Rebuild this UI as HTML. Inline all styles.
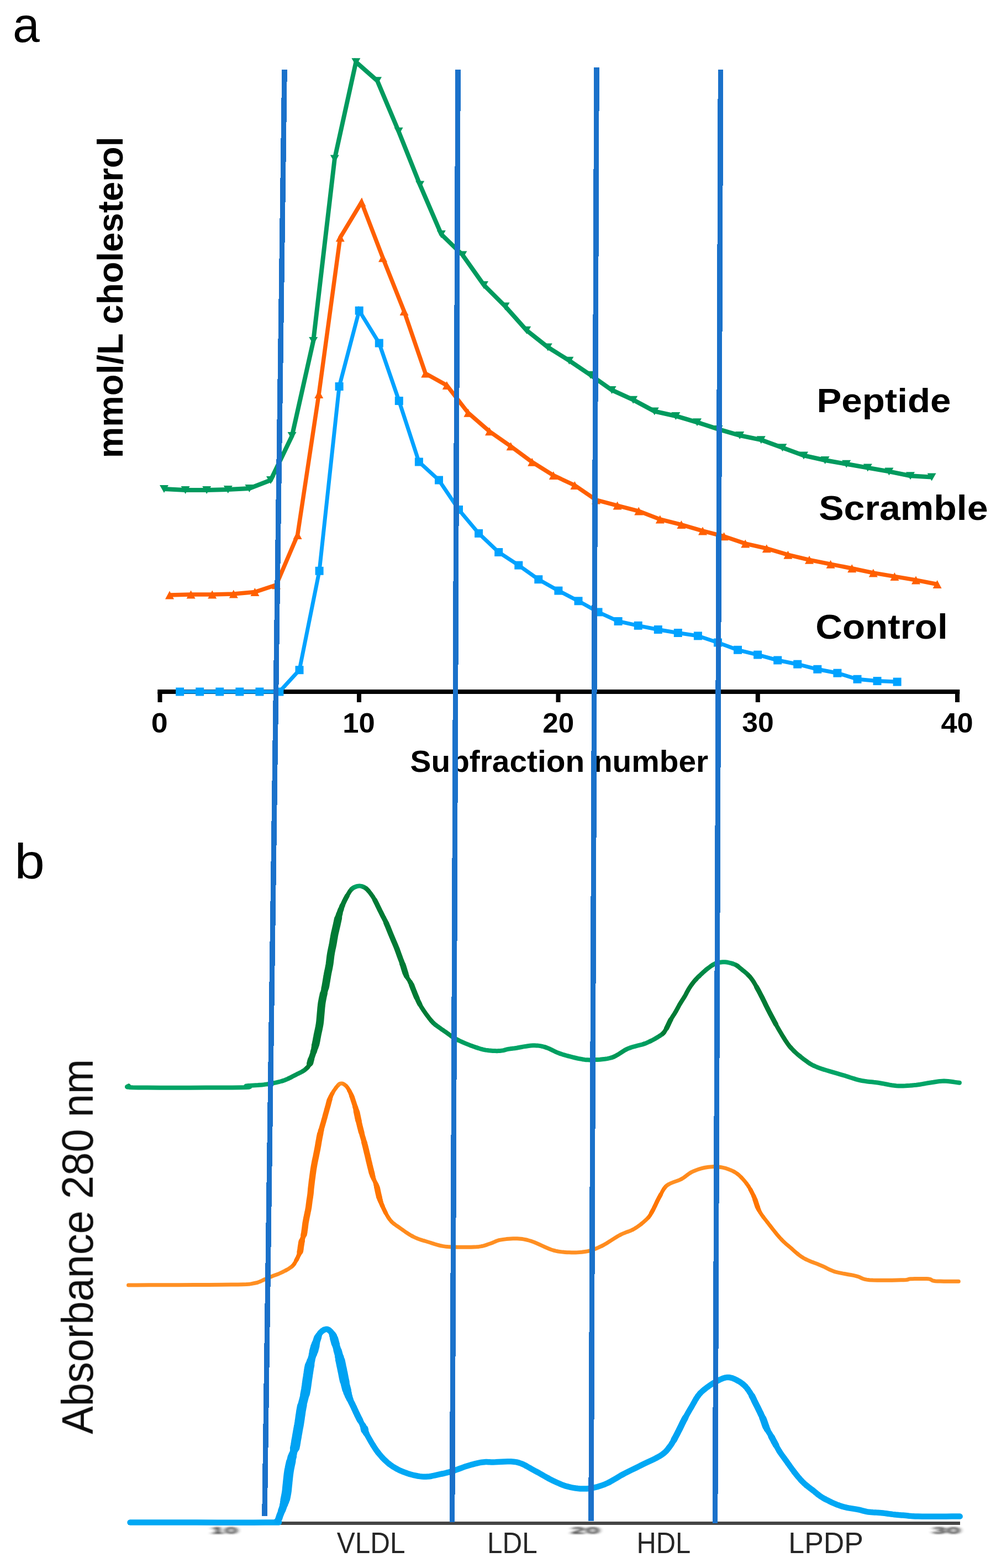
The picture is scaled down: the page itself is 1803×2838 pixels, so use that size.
<!DOCTYPE html><html><head><meta charset="utf-8"><title>Figure</title><style>html,body{margin:0;padding:0;background:#fff;}body{width:1803px;height:2838px;position:relative;overflow:hidden;}</style></head><body><svg width="1803" height="2838" viewBox="0 0 1803 2838" style="position:absolute;left:0;top:0" font-family="Liberation Sans, Arial, sans-serif">
<defs><filter id="blur1" x="-20%" y="-50%" width="140%" height="200%"><feGaussianBlur stdDeviation="1.5"/></filter><filter id="sb" x="-5%" y="-5%" width="110%" height="110%"><feGaussianBlur stdDeviation="0.6"/></filter><filter id="sbt" x="-20%" y="-30%" width="140%" height="160%"><feGaussianBlur stdDeviation="0.6"/></filter><filter id="sba" x="-2%" y="-150%" width="104%" height="400%"><feGaussianBlur stdDeviation="0.6"/></filter><filter id="blur2" x="-20%" y="-50%" width="140%" height="200%"><feGaussianBlur stdDeviation="1.6"/></filter></defs>
<rect width="1803" height="2838" fill="#fff"/>
<text transform="translate(23.07,76.02) scale(0.9797,1)" font-size="89.62" font-weight="normal" fill="#000" >a</text>
<text transform="translate(26.37,1589.92) scale(1.0936,1)" font-size="89.87" font-weight="normal" fill="#000" >b</text>
<g fill="#000">
<rect x="285.3" y="1248" width="1452" height="8"/>
<rect x="285.5" y="1252" width="8" height="19"/>
<rect x="646.0" y="1252" width="8" height="19"/>
<rect x="1006.5" y="1252" width="8" height="19"/>
<rect x="1367.8" y="1252" width="8" height="19"/>
<rect x="1729.0" y="1252" width="8" height="19"/>
</g>
<text transform="translate(273.87,1325.51) scale(1.0735,1)" font-size="50.14" font-weight="bold" fill="#000" >0</text>
<text transform="translate(620.19,1325.51) scale(1.0483,1)" font-size="50.14" font-weight="bold" fill="#000" >10</text>
<text transform="translate(982.23,1325.51) scale(1.0197,1)" font-size="50.14" font-weight="bold" fill="#000" >20</text>
<text transform="translate(1343.21,1325.44) scale(1.0332,1)" font-size="50.04" font-weight="bold" fill="#000" >30</text>
<text transform="translate(1703.51,1325.51) scale(1.0443,1)" font-size="50.14" font-weight="bold" fill="#000" >40</text>
<text transform="translate(742.56,1396.95) scale(1.0175,1)" font-size="55.83" font-weight="bold" fill="#000" >Subfraction number</text>
<text transform="translate(222.49,829.19) rotate(-90) scale(0.9699,1)" font-size="65.54" font-weight="bold" fill="#000" >mmol/L cholesterol</text>
<text transform="translate(1478.40,745.53) scale(1.0855,1)" font-size="62.01" font-weight="bold" fill="#000" >Peptide</text>
<text transform="translate(1482.24,940.68) scale(1.0720,1)" font-size="63.46" font-weight="bold" fill="#000" >Scramble</text>
<text transform="translate(1476.24,1156.38) scale(1.0619,1)" font-size="63.46" font-weight="bold" fill="#000" >Control</text>
<path d="M297.0,885.0 L335.6,887.0 L374.2,887.0 L412.8,886.0 L451.4,884.0 L490.0,869.0 L528.6,789.0 L567.2,617.0 L605.8,287.4 L644.4,112.2 L683.0,146.2 L721.6,237.7 L760.2,334.4 L798.8,424.0 L837.4,461.5 L876.0,516.0 L914.6,554.5 L953.2,597.8 L991.8,628.4 L1030.4,652.7 L1069.0,678.8 L1107.6,706.0 L1146.2,723.7 L1184.8,744.4 L1223.4,753.0 L1262.0,764.3 L1300.6,776.9 L1339.2,788.1 L1377.8,796.2 L1416.4,810.2 L1455.0,824.5 L1493.6,833.0 L1532.2,839.8 L1570.8,846.6 L1609.4,853.4 L1648.0,861.2 L1686.6,863.5" fill="none" stroke="#009a5e" stroke-width="8" stroke-linejoin="miter" stroke-miterlimit="3"/>
<path d="M289.0,878.0 L305.0,878.0 L297.0,892.0 Z M327.6,880.0 L343.6,880.0 L335.6,894.0 Z M366.2,880.0 L382.2,880.0 L374.2,894.0 Z M404.8,879.0 L420.8,879.0 L412.8,893.0 Z M443.4,877.0 L459.4,877.0 L451.4,891.0 Z M482.0,862.0 L498.0,862.0 L490.0,876.0 Z M520.6,782.0 L536.6,782.0 L528.6,796.0 Z M559.2,610.0 L575.2,610.0 L567.2,624.0 Z M597.8,280.4 L613.8,280.4 L605.8,294.4 Z M636.4,105.2 L652.4,105.2 L644.4,119.2 Z M675.0,139.2 L691.0,139.2 L683.0,153.2 Z M713.6,230.7 L729.6,230.7 L721.6,244.7 Z M752.2,327.4 L768.2,327.4 L760.2,341.4 Z M790.8,417.0 L806.8,417.0 L798.8,431.0 Z M829.4,454.5 L845.4,454.5 L837.4,468.5 Z M868.0,509.0 L884.0,509.0 L876.0,523.0 Z M906.6,547.5 L922.6,547.5 L914.6,561.5 Z M945.2,590.8 L961.2,590.8 L953.2,604.8 Z M983.8,621.4 L999.8,621.4 L991.8,635.4 Z M1022.4,645.7 L1038.4,645.7 L1030.4,659.7 Z M1061.0,671.8 L1077.0,671.8 L1069.0,685.8 Z M1099.6,699.0 L1115.6,699.0 L1107.6,713.0 Z M1138.2,716.7 L1154.2,716.7 L1146.2,730.7 Z M1176.8,737.4 L1192.8,737.4 L1184.8,751.4 Z M1215.4,746.0 L1231.4,746.0 L1223.4,760.0 Z M1254.0,757.3 L1270.0,757.3 L1262.0,771.3 Z M1292.6,769.9 L1308.6,769.9 L1300.6,783.9 Z M1331.2,781.1 L1347.2,781.1 L1339.2,795.1 Z M1369.8,789.2 L1385.8,789.2 L1377.8,803.2 Z M1408.4,803.2 L1424.4,803.2 L1416.4,817.2 Z M1447.0,817.5 L1463.0,817.5 L1455.0,831.5 Z M1485.6,826.0 L1501.6,826.0 L1493.6,840.0 Z M1524.2,832.8 L1540.2,832.8 L1532.2,846.8 Z M1562.8,839.6 L1578.8,839.6 L1570.8,853.6 Z M1601.4,846.4 L1617.4,846.4 L1609.4,860.4 Z M1640.0,854.2 L1656.0,854.2 L1648.0,868.2 Z M1678.6,856.5 L1694.6,856.5 L1686.6,870.5 Z" fill="#009a5e"/>
<path d="M307.0,1077.0 L345.6,1076.0 L384.2,1076.0 L422.8,1075.0 L461.4,1071.6 L500.0,1058.8 L538.6,968.5 L577.2,713.5 L615.8,430.0 L654.4,366.0 L693.0,466.7 L731.6,563.5 L770.2,676.0 L808.8,697.5 L847.4,747.2 L886.0,780.7 L924.6,807.7 L963.2,836.3 L1001.8,860.4 L1040.4,878.4 L1079.0,904.9 L1117.6,915.1 L1156.2,925.0 L1194.8,940.0 L1233.4,949.6 L1272.0,961.0 L1310.6,970.8 L1349.2,983.9 L1387.8,992.7 L1426.4,1004.2 L1465.0,1013.3 L1503.6,1021.2 L1542.2,1028.7 L1580.8,1036.9 L1619.4,1043.4 L1658.0,1049.9 L1696.6,1057.5" fill="none" stroke="#ff5f00" stroke-width="7.5" stroke-linejoin="miter" stroke-miterlimit="3"/>
<path d="M299.0,1084.5 L315.0,1084.5 L307.0,1069.5 Z M337.6,1083.5 L353.6,1083.5 L345.6,1068.5 Z M376.2,1083.5 L392.2,1083.5 L384.2,1068.5 Z M414.8,1082.5 L430.8,1082.5 L422.8,1067.5 Z M453.4,1079.1 L469.4,1079.1 L461.4,1064.1 Z M492.0,1066.3 L508.0,1066.3 L500.0,1051.3 Z M530.6,976.0 L546.6,976.0 L538.6,961.0 Z M569.2,721.0 L585.2,721.0 L577.2,706.0 Z M607.8,437.5 L623.8,437.5 L615.8,422.5 Z M646.4,373.5 L662.4,373.5 L654.4,358.5 Z M685.0,474.2 L701.0,474.2 L693.0,459.2 Z M723.6,571.0 L739.6,571.0 L731.6,556.0 Z M762.2,683.5 L778.2,683.5 L770.2,668.5 Z M800.8,705.0 L816.8,705.0 L808.8,690.0 Z M839.4,754.7 L855.4,754.7 L847.4,739.7 Z M878.0,788.2 L894.0,788.2 L886.0,773.2 Z M916.6,815.2 L932.6,815.2 L924.6,800.2 Z M955.2,843.8 L971.2,843.8 L963.2,828.8 Z M993.8,867.9 L1009.8,867.9 L1001.8,852.9 Z M1032.4,885.9 L1048.4,885.9 L1040.4,870.9 Z M1071.0,912.4 L1087.0,912.4 L1079.0,897.4 Z M1109.6,922.6 L1125.6,922.6 L1117.6,907.6 Z M1148.2,932.5 L1164.2,932.5 L1156.2,917.5 Z M1186.8,947.5 L1202.8,947.5 L1194.8,932.5 Z M1225.4,957.1 L1241.4,957.1 L1233.4,942.1 Z M1264.0,968.5 L1280.0,968.5 L1272.0,953.5 Z M1302.6,978.3 L1318.6,978.3 L1310.6,963.3 Z M1341.2,991.4 L1357.2,991.4 L1349.2,976.4 Z M1379.8,1000.2 L1395.8,1000.2 L1387.8,985.2 Z M1418.4,1011.7 L1434.4,1011.7 L1426.4,996.7 Z M1457.0,1020.8 L1473.0,1020.8 L1465.0,1005.8 Z M1495.6,1028.7 L1511.6,1028.7 L1503.6,1013.7 Z M1534.2,1036.2 L1550.2,1036.2 L1542.2,1021.2 Z M1572.8,1044.4 L1588.8,1044.4 L1580.8,1029.4 Z M1611.4,1050.9 L1627.4,1050.9 L1619.4,1035.9 Z M1650.0,1057.4 L1666.0,1057.4 L1658.0,1042.4 Z M1688.6,1065.0 L1704.6,1065.0 L1696.6,1050.0 Z" fill="#ff5f00"/>
<path d="M325.6,1252.0 L361.6,1252.0 L397.7,1252.0 L433.8,1252.0 L469.9,1252.0 L505.9,1252.0 L542.0,1212.7 L578.1,1033.3 L614.1,699.5 L650.2,562.2 L686.3,621.0 L722.3,725.5 L758.4,836.0 L794.5,869.0 L830.5,922.5 L866.6,965.4 L902.7,999.5 L938.8,1023.1 L974.8,1048.7 L1010.9,1069.1 L1047.0,1087.8 L1083.0,1107.9 L1119.1,1124.5 L1155.2,1132.3 L1191.2,1139.5 L1227.3,1145.5 L1263.4,1150.9 L1299.5,1163.0 L1335.5,1176.3 L1371.6,1185.1 L1407.7,1195.0 L1443.7,1202.2 L1479.8,1211.3 L1515.9,1218.2 L1552.0,1229.3 L1588.0,1232.6 L1624.1,1234.1" fill="none" stroke="#00a2ff" stroke-width="7" stroke-linejoin="miter" stroke-miterlimit="3"/>
<g fill="#00a2ff"><rect x="318.1" y="1244.5" width="15" height="15"/><rect x="354.1" y="1244.5" width="15" height="15"/><rect x="390.2" y="1244.5" width="15" height="15"/><rect x="426.3" y="1244.5" width="15" height="15"/><rect x="462.4" y="1244.5" width="15" height="15"/><rect x="498.4" y="1244.5" width="15" height="15"/><rect x="534.5" y="1205.2" width="15" height="15"/><rect x="570.6" y="1025.8" width="15" height="15"/><rect x="606.6" y="692.0" width="15" height="15"/><rect x="642.7" y="554.7" width="15" height="15"/><rect x="678.8" y="613.5" width="15" height="15"/><rect x="714.8" y="718.0" width="15" height="15"/><rect x="750.9" y="828.5" width="15" height="15"/><rect x="787.0" y="861.5" width="15" height="15"/><rect x="823.0" y="915.0" width="15" height="15"/><rect x="859.1" y="957.9" width="15" height="15"/><rect x="895.2" y="992.0" width="15" height="15"/><rect x="931.3" y="1015.6" width="15" height="15"/><rect x="967.3" y="1041.2" width="15" height="15"/><rect x="1003.4" y="1061.6" width="15" height="15"/><rect x="1039.5" y="1080.3" width="15" height="15"/><rect x="1075.5" y="1100.4" width="15" height="15"/><rect x="1111.6" y="1117.0" width="15" height="15"/><rect x="1147.7" y="1124.8" width="15" height="15"/><rect x="1183.8" y="1132.0" width="15" height="15"/><rect x="1219.8" y="1138.0" width="15" height="15"/><rect x="1255.9" y="1143.4" width="15" height="15"/><rect x="1292.0" y="1155.5" width="15" height="15"/><rect x="1328.0" y="1168.8" width="15" height="15"/><rect x="1364.1" y="1177.6" width="15" height="15"/><rect x="1400.2" y="1187.5" width="15" height="15"/><rect x="1436.2" y="1194.7" width="15" height="15"/><rect x="1472.3" y="1203.8" width="15" height="15"/><rect x="1508.4" y="1210.7" width="15" height="15"/><rect x="1544.5" y="1221.8" width="15" height="15"/><rect x="1580.5" y="1225.1" width="15" height="15"/><rect x="1616.6" y="1226.6" width="15" height="15"/></g>
<text transform="translate(167.82,2595.75) rotate(-90) scale(0.9505,1)" font-size="79.80" font-weight="normal" fill="#111" filter="url(#sbt)">Absorbance 280 nm</text>
<rect x="232" y="2754" width="1506" height="6" fill="#454545" filter="url(#sba)"/>
<g fill="none" stroke-width="8" stroke-linejoin="round" stroke-linecap="round" filter="url(#sb)"><path stroke="#009655" d="M233.0,1965.6 233.2,1965.8 232.2,1966.2 230.9,1966.6"/><path stroke="#009d5e" d="M230.9,1966.6 230.2,1967.1"/><path stroke="#00a466" d="M230.2,1967.1 230.9,1967.5 234.0,1967.9 240.2,1968.3 250.6,1968.5 267.0,1968.6 289.4,1968.7 315.7,1968.7 344.1,1968.7 372.3,1968.6 398.5,1968.5 420.6,1968.4 436.5,1968.2 446.0,1968.0 450.8,1967.7 452.1,1967.3 451.1,1966.9 448.8,1966.5 446.4,1966.1 445.0,1965.7 445.9,1965.4 448.5,1965.1 451.7,1964.9 455.2,1964.7 459.0,1964.5 462.9,1964.3 466.8,1964.1 470.6,1963.8 474.1,1963.5 477.5,1963.1 480.9,1962.6 484.3,1962.2 487.7,1961.6 490.9,1961.1 494.1,1960.5 497.1,1959.9 500.0,1959.3 502.7,1958.7 505.1,1958.1 507.4,1957.5 509.6,1956.9 511.8,1956.2"/><path stroke="#009d5e" d="M511.8,1956.2 513.9,1955.5 516.1,1954.7 518.3,1953.8 520.6,1952.8 523.0,1951.7"/><path stroke="#009655" d="M523.0,1951.7 525.4,1950.6 527.7,1949.4 530.1,1948.1 532.3,1946.9 534.5,1945.8 536.6,1944.7 538.6,1943.7 540.5,1942.8 542.3,1941.9 544.0,1941.1 545.7,1940.2 547.3,1939.3 548.8,1938.4"/><path stroke="#008f4d" d="M548.8,1938.4 550.3,1937.4 551.7,1936.4 553.0,1935.3"/><path stroke="#008845" d="M553.0,1935.3 554.3,1934.2 555.5,1933.0"/><path stroke="#00813c" d="M555.5,1933.0 556.7,1931.9"/><path stroke="#007a34" d="M556.7,1931.9 557.7,1930.7 558.6,1929.4 559.5,1928.2 560.2,1926.9"/><path stroke="#007a34" transform="translate(-0.5,0)" d="M560.2,1926.9 560.8,1925.6"/><path stroke="#007a34" transform="translate(-0.17,0)" d="M560.2,1926.9 560.8,1925.6"/><path stroke="#007a34" transform="translate(0.17,0)" d="M560.2,1926.9 560.8,1925.6"/><path stroke="#007a34" transform="translate(0.5,0)" d="M560.2,1926.9 560.8,1925.6"/><path stroke="#007a34" transform="translate(-1.5,0)" d="M560.8,1925.6 561.2,1924.3"/><path stroke="#007a34" transform="translate(-0.5,0)" d="M560.8,1925.6 561.2,1924.3"/><path stroke="#007a34" transform="translate(0.5,0)" d="M560.8,1925.6 561.2,1924.3"/><path stroke="#007a34" transform="translate(1.5,0)" d="M560.8,1925.6 561.2,1924.3"/><path stroke="#007a34" transform="translate(-2.0,0)" d="M561.2,1924.3 561.6,1923.0 561.9,1921.6 562.3,1920.2 562.6,1918.7 563.1,1917.2"/><path stroke="#007a34" transform="translate(-0.67,0)" d="M561.2,1924.3 561.6,1923.0 561.9,1921.6 562.3,1920.2 562.6,1918.7 563.1,1917.2"/><path stroke="#007a34" transform="translate(0.67,0)" d="M561.2,1924.3 561.6,1923.0 561.9,1921.6 562.3,1920.2 562.6,1918.7 563.1,1917.2"/><path stroke="#007a34" transform="translate(2.0,0)" d="M561.2,1924.3 561.6,1923.0 561.9,1921.6 562.3,1920.2 562.6,1918.7 563.1,1917.2"/><path stroke="#007a34" transform="translate(-1.5,0)" d="M563.1,1917.2 563.6,1915.6 564.2,1914.0 564.8,1912.3 565.4,1910.5 566.0,1908.8 566.6,1907.0 567.2,1905.2 567.7,1903.5"/><path stroke="#007a34" transform="translate(-0.5,0)" d="M563.1,1917.2 563.6,1915.6 564.2,1914.0 564.8,1912.3 565.4,1910.5 566.0,1908.8 566.6,1907.0 567.2,1905.2 567.7,1903.5"/><path stroke="#007a34" transform="translate(0.5,0)" d="M563.1,1917.2 563.6,1915.6 564.2,1914.0 564.8,1912.3 565.4,1910.5 566.0,1908.8 566.6,1907.0 567.2,1905.2 567.7,1903.5"/><path stroke="#007a34" transform="translate(1.5,0)" d="M563.1,1917.2 563.6,1915.6 564.2,1914.0 564.8,1912.3 565.4,1910.5 566.0,1908.8 566.6,1907.0 567.2,1905.2 567.7,1903.5"/><path stroke="#007a34" transform="translate(-2.0,0)" d="M567.7,1903.5 568.2,1901.8 568.7,1900.2 569.2,1898.6 569.6,1896.9 570.1,1895.3"/><path stroke="#007a34" transform="translate(-0.67,0)" d="M567.7,1903.5 568.2,1901.8 568.7,1900.2 569.2,1898.6 569.6,1896.9 570.1,1895.3"/><path stroke="#007a34" transform="translate(0.67,0)" d="M567.7,1903.5 568.2,1901.8 568.7,1900.2 569.2,1898.6 569.6,1896.9 570.1,1895.3"/><path stroke="#007a34" transform="translate(2.0,0)" d="M567.7,1903.5 568.2,1901.8 568.7,1900.2 569.2,1898.6 569.6,1896.9 570.1,1895.3"/><path stroke="#007a34" transform="translate(-2.5,0)" d="M570.1,1895.3 570.5,1893.5 570.9,1891.7"/><path stroke="#007a34" transform="translate(-0.83,0)" d="M570.1,1895.3 570.5,1893.5 570.9,1891.7"/><path stroke="#007a34" transform="translate(0.83,0)" d="M570.1,1895.3 570.5,1893.5 570.9,1891.7"/><path stroke="#007a34" transform="translate(2.5,0)" d="M570.1,1895.3 570.5,1893.5 570.9,1891.7"/><path stroke="#007a34" transform="translate(-3.0,0)" d="M570.9,1891.7 571.4,1889.8 571.9,1887.7 572.3,1885.5 572.8,1883.3 573.2,1880.9 573.6,1878.6 574.1,1876.2 574.5,1873.8 575.0,1871.5 575.5,1869.2 576.0,1866.9 576.5,1864.6 577.0,1862.4 577.4,1860.1 577.9,1857.8 578.3,1855.5 578.7,1853.2 579.0,1850.9 579.3,1848.6 579.5,1846.3 579.7,1844.0 579.9,1841.8 580.1,1839.5 580.3,1837.2 580.5,1834.9 580.7,1832.6 580.9,1830.3 581.1,1828.0 581.3,1825.6 581.5,1823.3 581.8,1821.1 582.0,1818.8 582.3,1816.6 582.6,1814.4 583.0,1812.3 583.4,1810.1 583.8,1808.0 584.2,1806.0 584.6,1803.9 585.1,1801.9 585.5,1800.0 585.9,1798.2"/><path stroke="#007a34" transform="translate(-1.0,0)" d="M570.9,1891.7 571.4,1889.8 571.9,1887.7 572.3,1885.5 572.8,1883.3 573.2,1880.9 573.6,1878.6 574.1,1876.2 574.5,1873.8 575.0,1871.5 575.5,1869.2 576.0,1866.9 576.5,1864.6 577.0,1862.4 577.4,1860.1 577.9,1857.8 578.3,1855.5 578.7,1853.2 579.0,1850.9 579.3,1848.6 579.5,1846.3 579.7,1844.0 579.9,1841.8 580.1,1839.5 580.3,1837.2 580.5,1834.9 580.7,1832.6 580.9,1830.3 581.1,1828.0 581.3,1825.6 581.5,1823.3 581.8,1821.1 582.0,1818.8 582.3,1816.6 582.6,1814.4 583.0,1812.3 583.4,1810.1 583.8,1808.0 584.2,1806.0 584.6,1803.9 585.1,1801.9 585.5,1800.0 585.9,1798.2"/><path stroke="#007a34" transform="translate(1.0,0)" d="M570.9,1891.7 571.4,1889.8 571.9,1887.7 572.3,1885.5 572.8,1883.3 573.2,1880.9 573.6,1878.6 574.1,1876.2 574.5,1873.8 575.0,1871.5 575.5,1869.2 576.0,1866.9 576.5,1864.6 577.0,1862.4 577.4,1860.1 577.9,1857.8 578.3,1855.5 578.7,1853.2 579.0,1850.9 579.3,1848.6 579.5,1846.3 579.7,1844.0 579.9,1841.8 580.1,1839.5 580.3,1837.2 580.5,1834.9 580.7,1832.6 580.9,1830.3 581.1,1828.0 581.3,1825.6 581.5,1823.3 581.8,1821.1 582.0,1818.8 582.3,1816.6 582.6,1814.4 583.0,1812.3 583.4,1810.1 583.8,1808.0 584.2,1806.0 584.6,1803.9 585.1,1801.9 585.5,1800.0 585.9,1798.2"/><path stroke="#007a34" transform="translate(3.0,0)" d="M570.9,1891.7 571.4,1889.8 571.9,1887.7 572.3,1885.5 572.8,1883.3 573.2,1880.9 573.6,1878.6 574.1,1876.2 574.5,1873.8 575.0,1871.5 575.5,1869.2 576.0,1866.9 576.5,1864.6 577.0,1862.4 577.4,1860.1 577.9,1857.8 578.3,1855.5 578.7,1853.2 579.0,1850.9 579.3,1848.6 579.5,1846.3 579.7,1844.0 579.9,1841.8 580.1,1839.5 580.3,1837.2 580.5,1834.9 580.7,1832.6 580.9,1830.3 581.1,1828.0 581.3,1825.6 581.5,1823.3 581.8,1821.1 582.0,1818.8 582.3,1816.6 582.6,1814.4 583.0,1812.3 583.4,1810.1 583.8,1808.0 584.2,1806.0 584.6,1803.9 585.1,1801.9 585.5,1800.0 585.9,1798.2"/><path stroke="#007a34" transform="translate(-2.5,0)" d="M585.9,1798.2 586.3,1796.5 586.8,1794.9 587.2,1793.3 587.7,1791.7 588.1,1790.0 588.5,1788.1"/><path stroke="#007a34" transform="translate(-0.83,0)" d="M585.9,1798.2 586.3,1796.5 586.8,1794.9 587.2,1793.3 587.7,1791.7 588.1,1790.0 588.5,1788.1"/><path stroke="#007a34" transform="translate(0.83,0)" d="M585.9,1798.2 586.3,1796.5 586.8,1794.9 587.2,1793.3 587.7,1791.7 588.1,1790.0 588.5,1788.1"/><path stroke="#007a34" transform="translate(2.5,0)" d="M585.9,1798.2 586.3,1796.5 586.8,1794.9 587.2,1793.3 587.7,1791.7 588.1,1790.0 588.5,1788.1"/><path stroke="#007a34" transform="translate(-3.0,0)" d="M588.5,1788.1 589.0,1786.0 589.5,1783.6 589.9,1780.9 590.4,1778.1 590.9,1775.2 591.4,1772.2 591.9,1769.3 592.3,1766.6 592.8,1764.0 593.2,1761.6 593.7,1759.4 594.1,1757.3 594.6,1755.3 595.0,1753.3 595.4,1751.2 595.8,1749.1 596.2,1746.9 596.6,1744.6 596.9,1742.2 597.2,1739.7 597.5,1737.3 597.8,1734.8 598.1,1732.3 598.4,1729.8 598.8,1727.3 599.2,1724.8 599.7,1722.3 600.2,1719.7 600.7,1717.2 601.3,1714.7 601.8,1712.2 602.3,1709.9 602.7,1707.6 603.1,1705.5 603.4,1703.4 603.7,1701.5 604.0,1699.6 604.4,1697.8 604.7,1695.9 605.0,1694.0 605.4,1692.0 605.8,1689.9 606.3,1687.8 606.8,1685.7 607.3,1683.6 607.8,1681.4 608.3,1679.3 608.8,1677.1 609.3,1675.0 609.8,1672.9 610.2,1670.7 610.7,1668.6 611.2,1666.4 611.6,1664.3 612.1,1662.2"/><path stroke="#007a34" transform="translate(-1.0,0)" d="M588.5,1788.1 589.0,1786.0 589.5,1783.6 589.9,1780.9 590.4,1778.1 590.9,1775.2 591.4,1772.2 591.9,1769.3 592.3,1766.6 592.8,1764.0 593.2,1761.6 593.7,1759.4 594.1,1757.3 594.6,1755.3 595.0,1753.3 595.4,1751.2 595.8,1749.1 596.2,1746.9 596.6,1744.6 596.9,1742.2 597.2,1739.7 597.5,1737.3 597.8,1734.8 598.1,1732.3 598.4,1729.8 598.8,1727.3 599.2,1724.8 599.7,1722.3 600.2,1719.7 600.7,1717.2 601.3,1714.7 601.8,1712.2 602.3,1709.9 602.7,1707.6 603.1,1705.5 603.4,1703.4 603.7,1701.5 604.0,1699.6 604.4,1697.8 604.7,1695.9 605.0,1694.0 605.4,1692.0 605.8,1689.9 606.3,1687.8 606.8,1685.7 607.3,1683.6 607.8,1681.4 608.3,1679.3 608.8,1677.1 609.3,1675.0 609.8,1672.9 610.2,1670.7 610.7,1668.6 611.2,1666.4 611.6,1664.3 612.1,1662.2"/><path stroke="#007a34" transform="translate(1.0,0)" d="M588.5,1788.1 589.0,1786.0 589.5,1783.6 589.9,1780.9 590.4,1778.1 590.9,1775.2 591.4,1772.2 591.9,1769.3 592.3,1766.6 592.8,1764.0 593.2,1761.6 593.7,1759.4 594.1,1757.3 594.6,1755.3 595.0,1753.3 595.4,1751.2 595.8,1749.1 596.2,1746.9 596.6,1744.6 596.9,1742.2 597.2,1739.7 597.5,1737.3 597.8,1734.8 598.1,1732.3 598.4,1729.8 598.8,1727.3 599.2,1724.8 599.7,1722.3 600.2,1719.7 600.7,1717.2 601.3,1714.7 601.8,1712.2 602.3,1709.9 602.7,1707.6 603.1,1705.5 603.4,1703.4 603.7,1701.5 604.0,1699.6 604.4,1697.8 604.7,1695.9 605.0,1694.0 605.4,1692.0 605.8,1689.9 606.3,1687.8 606.8,1685.7 607.3,1683.6 607.8,1681.4 608.3,1679.3 608.8,1677.1 609.3,1675.0 609.8,1672.9 610.2,1670.7 610.7,1668.6 611.2,1666.4 611.6,1664.3 612.1,1662.2"/><path stroke="#007a34" transform="translate(3.0,0)" d="M588.5,1788.1 589.0,1786.0 589.5,1783.6 589.9,1780.9 590.4,1778.1 590.9,1775.2 591.4,1772.2 591.9,1769.3 592.3,1766.6 592.8,1764.0 593.2,1761.6 593.7,1759.4 594.1,1757.3 594.6,1755.3 595.0,1753.3 595.4,1751.2 595.8,1749.1 596.2,1746.9 596.6,1744.6 596.9,1742.2 597.2,1739.7 597.5,1737.3 597.8,1734.8 598.1,1732.3 598.4,1729.8 598.8,1727.3 599.2,1724.8 599.7,1722.3 600.2,1719.7 600.7,1717.2 601.3,1714.7 601.8,1712.2 602.3,1709.9 602.7,1707.6 603.1,1705.5 603.4,1703.4 603.7,1701.5 604.0,1699.6 604.4,1697.8 604.7,1695.9 605.0,1694.0 605.4,1692.0 605.8,1689.9 606.3,1687.8 606.8,1685.7 607.3,1683.6 607.8,1681.4 608.3,1679.3 608.8,1677.1 609.3,1675.0 609.8,1672.9 610.2,1670.7 610.7,1668.6 611.2,1666.4 611.6,1664.3 612.1,1662.2"/><path stroke="#007a34" transform="translate(-2.5,0)" d="M612.1,1662.2 612.7,1660.1"/><path stroke="#007a34" transform="translate(-0.83,0)" d="M612.1,1662.2 612.7,1660.1"/><path stroke="#007a34" transform="translate(0.83,0)" d="M612.1,1662.2 612.7,1660.1"/><path stroke="#007a34" transform="translate(2.5,0)" d="M612.1,1662.2 612.7,1660.1"/><path stroke="#007a34" transform="translate(-2.0,0)" d="M612.7,1660.1 613.2,1658.0 613.8,1656.0 614.4,1654.0"/><path stroke="#007a34" transform="translate(-0.67,0)" d="M612.7,1660.1 613.2,1658.0 613.8,1656.0 614.4,1654.0"/><path stroke="#007a34" transform="translate(0.67,0)" d="M612.7,1660.1 613.2,1658.0 613.8,1656.0 614.4,1654.0"/><path stroke="#007a34" transform="translate(2.0,0)" d="M612.7,1660.1 613.2,1658.0 613.8,1656.0 614.4,1654.0"/><path stroke="#007a34" transform="translate(-1.5,0)" d="M614.4,1654.0 615.0,1652.0 615.6,1650.0 616.3,1648.0 617.0,1646.1"/><path stroke="#007a34" transform="translate(-0.5,0)" d="M614.4,1654.0 615.0,1652.0 615.6,1650.0 616.3,1648.0 617.0,1646.1"/><path stroke="#007a34" transform="translate(0.5,0)" d="M614.4,1654.0 615.0,1652.0 615.6,1650.0 616.3,1648.0 617.0,1646.1"/><path stroke="#007a34" transform="translate(1.5,0)" d="M614.4,1654.0 615.0,1652.0 615.6,1650.0 616.3,1648.0 617.0,1646.1"/><path stroke="#007a34" transform="translate(-1.0,0)" d="M617.0,1646.1 617.7,1644.2 618.4,1642.3 619.1,1640.4 619.9,1638.6"/><path stroke="#007a34" transform="translate(-0.33,0)" d="M617.0,1646.1 617.7,1644.2 618.4,1642.3 619.1,1640.4 619.9,1638.6"/><path stroke="#007a34" transform="translate(0.33,0)" d="M617.0,1646.1 617.7,1644.2 618.4,1642.3 619.1,1640.4 619.9,1638.6"/><path stroke="#007a34" transform="translate(1.0,0)" d="M617.0,1646.1 617.7,1644.2 618.4,1642.3 619.1,1640.4 619.9,1638.6"/><path stroke="#007a34" transform="translate(-0.5,0)" d="M619.9,1638.6 620.7,1636.9 621.5,1635.1 622.3,1633.3 623.1,1631.6 624.0,1629.8 625.0,1627.9 626.0,1625.9 627.1,1623.9 628.3,1621.7"/><path stroke="#007a34" transform="translate(-0.17,0)" d="M619.9,1638.6 620.7,1636.9 621.5,1635.1 622.3,1633.3 623.1,1631.6 624.0,1629.8 625.0,1627.9 626.0,1625.9 627.1,1623.9 628.3,1621.7"/><path stroke="#007a34" transform="translate(0.17,0)" d="M619.9,1638.6 620.7,1636.9 621.5,1635.1 622.3,1633.3 623.1,1631.6 624.0,1629.8 625.0,1627.9 626.0,1625.9 627.1,1623.9 628.3,1621.7"/><path stroke="#007a34" transform="translate(0.5,0)" d="M619.9,1638.6 620.7,1636.9 621.5,1635.1 622.3,1633.3 623.1,1631.6 624.0,1629.8 625.0,1627.9 626.0,1625.9 627.1,1623.9 628.3,1621.7"/><path stroke="#007a34" d="M628.3,1621.7 629.5,1619.6 630.7,1617.5 631.9,1615.5 633.0,1613.7 634.1,1612.2 635.1,1610.9 636.1,1609.8"/><path stroke="#00813c" d="M636.1,1609.8 637.0,1608.9"/><path stroke="#008845" d="M637.0,1608.9 638.0,1608.1"/><path stroke="#008f4d" d="M638.0,1608.1 638.9,1607.4"/><path stroke="#009655" d="M638.9,1607.4 639.9,1606.8 640.9,1606.2"/><path stroke="#009d5e" d="M640.9,1606.2 642.0,1605.7 643.2,1605.2 644.4,1604.7"/><path stroke="#00a466" d="M644.4,1604.7 645.7,1604.3 647.0,1604.0 648.4,1603.8 649.7,1603.6 651.1,1603.6 652.4,1603.7 653.7,1603.9 655.1,1604.2 656.4,1604.7"/><path stroke="#009d5e" d="M656.4,1604.7 657.7,1605.2 659.1,1605.9"/><path stroke="#009655" d="M659.1,1605.9 660.4,1606.6 661.7,1607.4"/><path stroke="#008f4d" d="M661.7,1607.4 662.9,1608.3"/><path stroke="#008845" d="M662.9,1608.3 664.1,1609.3"/><path stroke="#00813c" d="M664.1,1609.3 665.3,1610.5 666.5,1611.8"/><path stroke="#007a34" d="M666.5,1611.8 667.7,1613.2 668.8,1614.6 669.9,1616.0 671.0,1617.5 672.0,1618.8 672.9,1620.1 673.8,1621.3 674.7,1622.6 675.5,1623.8 676.2,1625.1 677.0,1626.4 677.8,1627.8 678.6,1629.2"/><path stroke="#007a34" transform="translate(-0.5,0)" d="M678.6,1629.2 679.4,1630.7 680.2,1632.3 681.0,1633.9 681.9,1635.6 682.7,1637.3 683.5,1639.0 684.3,1640.6 685.1,1642.3 685.9,1643.9 686.7,1645.6 687.5,1647.2 688.3,1648.9 689.2,1650.5 690.0,1652.1 690.8,1653.8 691.6,1655.4 692.4,1657.0 693.2,1658.6 694.1,1660.2 694.9,1661.7 695.7,1663.3 696.6,1665.0 697.4,1666.6 698.2,1668.4 699.0,1670.2"/><path stroke="#007a34" transform="translate(-0.17,0)" d="M678.6,1629.2 679.4,1630.7 680.2,1632.3 681.0,1633.9 681.9,1635.6 682.7,1637.3 683.5,1639.0 684.3,1640.6 685.1,1642.3 685.9,1643.9 686.7,1645.6 687.5,1647.2 688.3,1648.9 689.2,1650.5 690.0,1652.1 690.8,1653.8 691.6,1655.4 692.4,1657.0 693.2,1658.6 694.1,1660.2 694.9,1661.7 695.7,1663.3 696.6,1665.0 697.4,1666.6 698.2,1668.4 699.0,1670.2"/><path stroke="#007a34" transform="translate(0.17,0)" d="M678.6,1629.2 679.4,1630.7 680.2,1632.3 681.0,1633.9 681.9,1635.6 682.7,1637.3 683.5,1639.0 684.3,1640.6 685.1,1642.3 685.9,1643.9 686.7,1645.6 687.5,1647.2 688.3,1648.9 689.2,1650.5 690.0,1652.1 690.8,1653.8 691.6,1655.4 692.4,1657.0 693.2,1658.6 694.1,1660.2 694.9,1661.7 695.7,1663.3 696.6,1665.0 697.4,1666.6 698.2,1668.4 699.0,1670.2"/><path stroke="#007a34" transform="translate(0.5,0)" d="M678.6,1629.2 679.4,1630.7 680.2,1632.3 681.0,1633.9 681.9,1635.6 682.7,1637.3 683.5,1639.0 684.3,1640.6 685.1,1642.3 685.9,1643.9 686.7,1645.6 687.5,1647.2 688.3,1648.9 689.2,1650.5 690.0,1652.1 690.8,1653.8 691.6,1655.4 692.4,1657.0 693.2,1658.6 694.1,1660.2 694.9,1661.7 695.7,1663.3 696.6,1665.0 697.4,1666.6 698.2,1668.4 699.0,1670.2"/><path stroke="#007a34" transform="translate(-1.0,0)" d="M699.0,1670.2 699.8,1672.1 700.6,1674.1 701.5,1676.1 702.3,1678.1 703.1,1680.1 703.9,1682.1 704.7,1684.1 705.5,1686.1 706.3,1688.0 707.1,1690.0 707.9,1691.9 708.8,1693.9 709.6,1695.9 710.4,1697.8 711.2,1699.8 712.0,1701.8 712.9,1703.7 713.7,1705.7 714.6,1707.7 715.4,1709.6 716.2,1711.6 717.0,1713.5 717.8,1715.5 718.6,1717.4 719.3,1719.4 720.0,1721.3 720.7,1723.2 721.4,1725.2 722.1,1727.1 722.8,1729.1 723.5,1731.0 724.2,1732.9 724.9,1734.8 725.6,1736.7 726.4,1738.6 727.1,1740.5 727.8,1742.5 728.5,1744.6"/><path stroke="#007a34" transform="translate(-0.33,0)" d="M699.0,1670.2 699.8,1672.1 700.6,1674.1 701.5,1676.1 702.3,1678.1 703.1,1680.1 703.9,1682.1 704.7,1684.1 705.5,1686.1 706.3,1688.0 707.1,1690.0 707.9,1691.9 708.8,1693.9 709.6,1695.9 710.4,1697.8 711.2,1699.8 712.0,1701.8 712.9,1703.7 713.7,1705.7 714.6,1707.7 715.4,1709.6 716.2,1711.6 717.0,1713.5 717.8,1715.5 718.6,1717.4 719.3,1719.4 720.0,1721.3 720.7,1723.2 721.4,1725.2 722.1,1727.1 722.8,1729.1 723.5,1731.0 724.2,1732.9 724.9,1734.8 725.6,1736.7 726.4,1738.6 727.1,1740.5 727.8,1742.5 728.5,1744.6"/><path stroke="#007a34" transform="translate(0.33,0)" d="M699.0,1670.2 699.8,1672.1 700.6,1674.1 701.5,1676.1 702.3,1678.1 703.1,1680.1 703.9,1682.1 704.7,1684.1 705.5,1686.1 706.3,1688.0 707.1,1690.0 707.9,1691.9 708.8,1693.9 709.6,1695.9 710.4,1697.8 711.2,1699.8 712.0,1701.8 712.9,1703.7 713.7,1705.7 714.6,1707.7 715.4,1709.6 716.2,1711.6 717.0,1713.5 717.8,1715.5 718.6,1717.4 719.3,1719.4 720.0,1721.3 720.7,1723.2 721.4,1725.2 722.1,1727.1 722.8,1729.1 723.5,1731.0 724.2,1732.9 724.9,1734.8 725.6,1736.7 726.4,1738.6 727.1,1740.5 727.8,1742.5 728.5,1744.6"/><path stroke="#007a34" transform="translate(1.0,0)" d="M699.0,1670.2 699.8,1672.1 700.6,1674.1 701.5,1676.1 702.3,1678.1 703.1,1680.1 703.9,1682.1 704.7,1684.1 705.5,1686.1 706.3,1688.0 707.1,1690.0 707.9,1691.9 708.8,1693.9 709.6,1695.9 710.4,1697.8 711.2,1699.8 712.0,1701.8 712.9,1703.7 713.7,1705.7 714.6,1707.7 715.4,1709.6 716.2,1711.6 717.0,1713.5 717.8,1715.5 718.6,1717.4 719.3,1719.4 720.0,1721.3 720.7,1723.2 721.4,1725.2 722.1,1727.1 722.8,1729.1 723.5,1731.0 724.2,1732.9 724.9,1734.8 725.6,1736.7 726.4,1738.6 727.1,1740.5 727.8,1742.5 728.5,1744.6"/><path stroke="#007a34" transform="translate(-1.5,0)" d="M728.5,1744.6 729.3,1746.7 730.1,1749.0 730.8,1751.4 731.6,1754.0 732.4,1756.6 733.2,1759.1 734.0,1761.6"/><path stroke="#007a34" transform="translate(-0.5,0)" d="M728.5,1744.6 729.3,1746.7 730.1,1749.0 730.8,1751.4 731.6,1754.0 732.4,1756.6 733.2,1759.1 734.0,1761.6"/><path stroke="#007a34" transform="translate(0.5,0)" d="M728.5,1744.6 729.3,1746.7 730.1,1749.0 730.8,1751.4 731.6,1754.0 732.4,1756.6 733.2,1759.1 734.0,1761.6"/><path stroke="#007a34" transform="translate(1.5,0)" d="M728.5,1744.6 729.3,1746.7 730.1,1749.0 730.8,1751.4 731.6,1754.0 732.4,1756.6 733.2,1759.1 734.0,1761.6"/><path stroke="#007a34" transform="translate(-1.0,0)" d="M734.0,1761.6 734.8,1764.0 735.7,1766.1"/><path stroke="#007a34" transform="translate(-0.33,0)" d="M734.0,1761.6 734.8,1764.0 735.7,1766.1"/><path stroke="#007a34" transform="translate(0.33,0)" d="M734.0,1761.6 734.8,1764.0 735.7,1766.1"/><path stroke="#007a34" transform="translate(1.0,0)" d="M734.0,1761.6 734.8,1764.0 735.7,1766.1"/><path stroke="#007a34" transform="translate(-0.5,0)" d="M735.7,1766.1 736.6,1768.0"/><path stroke="#007a34" transform="translate(-0.17,0)" d="M735.7,1766.1 736.6,1768.0"/><path stroke="#007a34" transform="translate(0.17,0)" d="M735.7,1766.1 736.6,1768.0"/><path stroke="#007a34" transform="translate(0.5,0)" d="M735.7,1766.1 736.6,1768.0"/><path stroke="#007a34" d="M736.6,1768.0 737.6,1769.8 738.6,1771.5 739.7,1773.0 740.7,1774.6 741.7,1776.1 742.6,1777.6"/><path stroke="#007a34" transform="translate(-0.5,0)" d="M742.6,1777.6 743.5,1779.2 744.3,1780.8 745.0,1782.4"/><path stroke="#007a34" transform="translate(-0.17,0)" d="M742.6,1777.6 743.5,1779.2 744.3,1780.8 745.0,1782.4"/><path stroke="#007a34" transform="translate(0.17,0)" d="M742.6,1777.6 743.5,1779.2 744.3,1780.8 745.0,1782.4"/><path stroke="#007a34" transform="translate(0.5,0)" d="M742.6,1777.6 743.5,1779.2 744.3,1780.8 745.0,1782.4"/><path stroke="#007a34" transform="translate(-1.0,0)" d="M745.0,1782.4 745.6,1784.0 746.2,1785.6 746.8,1787.2 747.4,1788.8 748.1,1790.5 748.8,1792.3 749.6,1794.2 750.3,1796.1 751.1,1798.1 752.0,1800.2 752.8,1802.2 753.6,1804.2 754.5,1806.1"/><path stroke="#007a34" transform="translate(-0.33,0)" d="M745.0,1782.4 745.6,1784.0 746.2,1785.6 746.8,1787.2 747.4,1788.8 748.1,1790.5 748.8,1792.3 749.6,1794.2 750.3,1796.1 751.1,1798.1 752.0,1800.2 752.8,1802.2 753.6,1804.2 754.5,1806.1"/><path stroke="#007a34" transform="translate(0.33,0)" d="M745.0,1782.4 745.6,1784.0 746.2,1785.6 746.8,1787.2 747.4,1788.8 748.1,1790.5 748.8,1792.3 749.6,1794.2 750.3,1796.1 751.1,1798.1 752.0,1800.2 752.8,1802.2 753.6,1804.2 754.5,1806.1"/><path stroke="#007a34" transform="translate(1.0,0)" d="M745.0,1782.4 745.6,1784.0 746.2,1785.6 746.8,1787.2 747.4,1788.8 748.1,1790.5 748.8,1792.3 749.6,1794.2 750.3,1796.1 751.1,1798.1 752.0,1800.2 752.8,1802.2 753.6,1804.2 754.5,1806.1"/><path stroke="#007a34" transform="translate(-0.5,0)" d="M754.5,1806.1 755.3,1808.0 756.1,1809.7 756.8,1811.4 757.6,1813.0 758.3,1814.5 759.1,1816.0 759.9,1817.6"/><path stroke="#007a34" transform="translate(-0.17,0)" d="M754.5,1806.1 755.3,1808.0 756.1,1809.7 756.8,1811.4 757.6,1813.0 758.3,1814.5 759.1,1816.0 759.9,1817.6"/><path stroke="#007a34" transform="translate(0.17,0)" d="M754.5,1806.1 755.3,1808.0 756.1,1809.7 756.8,1811.4 757.6,1813.0 758.3,1814.5 759.1,1816.0 759.9,1817.6"/><path stroke="#007a34" transform="translate(0.5,0)" d="M754.5,1806.1 755.3,1808.0 756.1,1809.7 756.8,1811.4 757.6,1813.0 758.3,1814.5 759.1,1816.0 759.9,1817.6"/><path stroke="#007a34" d="M759.9,1817.6 760.8,1819.3 761.8,1821.0 762.9,1822.8 764.1,1824.8 765.4,1826.7 766.7,1828.8 768.1,1830.8 769.5,1832.8 770.9,1834.8 772.3,1836.7 773.7,1838.6 775.2,1840.5 776.6,1842.4 778.1,1844.3 779.6,1846.1 781.1,1847.9"/><path stroke="#00813c" d="M781.1,1847.9 782.6,1849.6 784.1,1851.1"/><path stroke="#008845" d="M784.1,1851.1 785.6,1852.5 787.0,1853.8 788.4,1854.9"/><path stroke="#008f4d" d="M788.4,1854.9 789.9,1856.0 791.3,1857.1 792.8,1858.1 794.3,1859.2 795.8,1860.3 797.4,1861.4 799.0,1862.6 800.6,1863.7 802.3,1864.8 803.9,1866.0 805.6,1867.1 807.3,1868.3 808.9,1869.4 810.5,1870.6 812.1,1871.7 813.7,1872.9 815.3,1874.1 816.9,1875.2 818.5,1876.4 820.2,1877.5"/><path stroke="#009655" d="M820.2,1877.5 822.0,1878.6 823.8,1879.6 825.6,1880.6 827.5,1881.6 829.4,1882.6"/><path stroke="#009d5e" d="M829.4,1882.6 831.3,1883.5 833.4,1884.5 835.4,1885.4 837.6,1886.4 839.9,1887.4 842.2,1888.4 844.7,1889.4 847.2,1890.4 849.7,1891.4 852.3,1892.4 854.8,1893.3 857.3,1894.2 859.8,1895.1 862.2,1895.9 864.7,1896.7"/><path stroke="#00a466" d="M864.7,1896.7 867.1,1897.5 869.6,1898.3 872.0,1898.9 874.5,1899.6 876.9,1900.1 879.4,1900.6 882.0,1900.9 884.5,1901.3 887.1,1901.5 889.6,1901.7 892.1,1901.9 894.4,1902.0 896.5,1902.1 898.5,1902.2 900.3,1902.2 902.0,1902.1 903.6,1902.0 905.1,1901.9 906.6,1901.8 908.0,1901.6 909.5,1901.4 910.9,1901.2 912.3,1900.9 913.5,1900.5 914.8,1900.2 916.0,1899.8 917.3,1899.4 918.6,1899.1 920.0,1898.8 921.3,1898.6 922.5,1898.4 923.6,1898.3 924.7,1898.1 926.1,1898.0 927.7,1897.8 929.7,1897.6 932.2,1897.2 935.4,1896.7 939.1,1896.0 943.4,1895.2 947.8,1894.4 952.4,1893.7 956.9,1893.0 961.0,1892.5 964.8,1892.3 968.1,1892.3 971.1,1892.4 974.0,1892.6 976.6,1892.9 979.3,1893.4 982.0,1894.0 984.7,1894.7 987.7,1895.6"/><path stroke="#009d5e" d="M987.7,1895.6 990.8,1896.7 993.8,1897.9 996.9,1899.4 1000.0,1900.9 1003.3,1902.5 1006.6,1904.1 1010.2,1905.6 1013.9,1907.0"/><path stroke="#00a466" d="M1013.9,1907.0 1017.9,1908.3 1022.3,1909.6 1026.9,1911.0 1031.6,1912.2 1036.2,1913.4 1040.8,1914.5 1045.1,1915.5 1049.0,1916.3 1052.5,1916.9 1055.6,1917.5 1058.5,1917.9 1061.3,1918.2 1064.1,1918.3 1066.9,1918.4 1070.0,1918.4 1073.5,1918.3 1077.4,1918.1 1081.5,1917.9 1085.9,1917.7 1090.3,1917.3 1094.9,1916.8 1099.3,1916.1 1103.7,1915.2 1107.8,1914.0"/><path stroke="#009d5e" d="M1107.8,1914.0 1111.7,1912.5"/><path stroke="#009655" d="M1111.7,1912.5 1115.4,1910.6 1119.1,1908.5 1122.7,1906.2 1126.2,1903.9 1129.8,1901.6 1133.5,1899.5"/><path stroke="#009d5e" d="M1133.5,1899.5 1137.3,1897.7 1141.3,1896.2"/><path stroke="#00a466" d="M1141.3,1896.2 1145.4,1894.9 1149.5,1893.8 1153.8,1892.7 1157.9,1891.7 1162.1,1890.6 1166.1,1889.3"/><path stroke="#009d5e" d="M1166.1,1889.3 1169.9,1887.9 1173.7,1886.2 1177.5,1884.4"/><path stroke="#009655" d="M1177.5,1884.4 1181.3,1882.5 1185.0,1880.5 1188.4,1878.5 1191.7,1876.5 1194.5,1874.7"/><path stroke="#008f4d" d="M1194.5,1874.7 1197.0,1873.0 1199.0,1871.6"/><path stroke="#008845" d="M1199.0,1871.6 1200.4,1870.3"/><path stroke="#00813c" d="M1200.4,1870.3 1201.5,1869.2"/><path stroke="#007a34" d="M1201.5,1869.2 1202.4,1868.1 1203.1,1867.0 1203.8,1865.8 1204.6,1864.5 1205.5,1862.9 1206.6,1861.1"/><path stroke="#007a34" transform="translate(-0.5,0)" d="M1206.6,1861.1 1207.6,1859.1 1208.7,1856.9 1209.8,1854.6 1210.8,1852.3 1211.9,1850.1 1212.9,1847.9 1214.0,1845.9"/><path stroke="#007a34" transform="translate(-0.17,0)" d="M1206.6,1861.1 1207.6,1859.1 1208.7,1856.9 1209.8,1854.6 1210.8,1852.3 1211.9,1850.1 1212.9,1847.9 1214.0,1845.9"/><path stroke="#007a34" transform="translate(0.17,0)" d="M1206.6,1861.1 1207.6,1859.1 1208.7,1856.9 1209.8,1854.6 1210.8,1852.3 1211.9,1850.1 1212.9,1847.9 1214.0,1845.9"/><path stroke="#007a34" transform="translate(0.5,0)" d="M1206.6,1861.1 1207.6,1859.1 1208.7,1856.9 1209.8,1854.6 1210.8,1852.3 1211.9,1850.1 1212.9,1847.9 1214.0,1845.9"/><path stroke="#007a34" d="M1214.0,1845.9 1215.1,1844.0 1216.1,1842.3 1217.2,1840.6 1218.2,1838.9 1219.3,1837.3 1220.4,1835.7 1221.4,1834.0 1222.5,1832.2 1223.6,1830.4 1224.6,1828.4 1225.7,1826.5 1226.8,1824.5 1227.8,1822.6 1228.9,1820.6 1229.9,1818.7 1231.0,1816.9 1232.1,1815.1 1233.1,1813.4 1234.2,1811.8 1235.2,1810.1 1236.3,1808.4 1237.4,1806.8 1238.4,1805.1 1239.5,1803.3 1240.6,1801.5 1241.6,1799.6 1242.6,1797.6 1243.6,1795.7 1244.7,1793.7 1245.8,1791.7 1246.9,1789.8 1248.0,1788.0 1249.2,1786.2 1250.4,1784.4 1251.6,1782.7 1252.9,1781.0 1254.2,1779.3 1255.5,1777.6 1256.8,1776.0 1258.2,1774.4 1259.6,1772.8"/><path stroke="#00813c" d="M1259.6,1772.8 1261.1,1771.3 1262.5,1769.7 1264.0,1768.2 1265.6,1766.8"/><path stroke="#008845" d="M1265.6,1766.8 1267.1,1765.3 1268.6,1763.9 1270.1,1762.5 1271.6,1761.1 1273.0,1759.8 1274.5,1758.5 1275.9,1757.2 1277.4,1755.9 1278.9,1754.7"/><path stroke="#008f4d" d="M1278.9,1754.7 1280.4,1753.5 1282.0,1752.3 1283.6,1751.1 1285.2,1749.9 1286.8,1748.7 1288.5,1747.6 1290.2,1746.5"/><path stroke="#009655" d="M1290.2,1746.5 1291.9,1745.5 1293.7,1744.6"/><path stroke="#009d5e" d="M1293.7,1744.6 1295.6,1743.8"/><path stroke="#00a466" d="M1295.6,1743.8 1297.6,1743.2 1299.6,1742.6 1301.8,1742.1 1303.9,1741.8 1306.1,1741.5 1308.3,1741.3 1310.5,1741.3 1312.7,1741.3 1314.9,1741.5 1317.1,1741.8 1319.4,1742.3 1321.6,1742.8 1323.8,1743.4 1325.9,1744.1"/><path stroke="#009d5e" d="M1325.9,1744.1 1327.9,1744.8 1329.7,1745.5 1331.2,1746.1 1332.5,1746.8"/><path stroke="#009655" d="M1332.5,1746.8 1333.6,1747.4"/><path stroke="#008f4d" d="M1333.6,1747.4 1334.6,1748.0 1335.7,1748.8"/><path stroke="#008845" d="M1335.7,1748.8 1336.8,1749.8 1338.2,1750.9 1339.9,1752.3 1341.9,1753.9 1344.2,1755.8 1346.7,1757.8 1349.3,1760.0 1352.0,1762.3 1354.6,1764.9"/><path stroke="#00813c" d="M1354.6,1764.9 1357.1,1767.5"/><path stroke="#007a34" d="M1357.1,1767.5 1359.5,1770.3 1361.7,1773.3 1363.8,1776.4 1365.8,1779.8 1367.8,1783.2 1369.8,1786.8"/><path stroke="#007a34" transform="translate(-0.5,0)" d="M1369.8,1786.8 1371.8,1790.5 1373.8,1794.2 1375.8,1798.0 1377.8,1801.8 1379.8,1805.7 1381.8,1809.8 1383.8,1813.8 1385.8,1818.0 1387.9,1822.2 1390.0,1826.4 1392.2,1830.7 1394.5,1835.1 1396.9,1839.6 1399.3,1844.2 1401.8,1848.9 1404.3,1853.5"/><path stroke="#007a34" transform="translate(-0.17,0)" d="M1369.8,1786.8 1371.8,1790.5 1373.8,1794.2 1375.8,1798.0 1377.8,1801.8 1379.8,1805.7 1381.8,1809.8 1383.8,1813.8 1385.8,1818.0 1387.9,1822.2 1390.0,1826.4 1392.2,1830.7 1394.5,1835.1 1396.9,1839.6 1399.3,1844.2 1401.8,1848.9 1404.3,1853.5"/><path stroke="#007a34" transform="translate(0.17,0)" d="M1369.8,1786.8 1371.8,1790.5 1373.8,1794.2 1375.8,1798.0 1377.8,1801.8 1379.8,1805.7 1381.8,1809.8 1383.8,1813.8 1385.8,1818.0 1387.9,1822.2 1390.0,1826.4 1392.2,1830.7 1394.5,1835.1 1396.9,1839.6 1399.3,1844.2 1401.8,1848.9 1404.3,1853.5"/><path stroke="#007a34" transform="translate(0.5,0)" d="M1369.8,1786.8 1371.8,1790.5 1373.8,1794.2 1375.8,1798.0 1377.8,1801.8 1379.8,1805.7 1381.8,1809.8 1383.8,1813.8 1385.8,1818.0 1387.9,1822.2 1390.0,1826.4 1392.2,1830.7 1394.5,1835.1 1396.9,1839.6 1399.3,1844.2 1401.8,1848.9 1404.3,1853.5"/><path stroke="#007a34" d="M1404.3,1853.5 1406.8,1858.1 1409.3,1862.5 1411.8,1866.7 1414.2,1870.7 1416.5,1874.7 1418.9,1878.5 1421.2,1882.2 1423.6,1885.8 1426.0,1889.4 1428.6,1892.8 1431.4,1896.1"/><path stroke="#00813c" d="M1431.4,1896.1 1434.4,1899.3 1437.5,1902.5"/><path stroke="#008845" d="M1437.5,1902.5 1440.9,1905.6 1444.2,1908.6 1447.7,1911.4"/><path stroke="#008f4d" d="M1447.7,1911.4 1451.0,1914.1 1454.3,1916.7 1457.5,1919.0 1460.4,1921.1 1462.9,1922.9 1465.3,1924.6"/><path stroke="#009655" d="M1465.3,1924.6 1467.8,1926.1 1470.3,1927.5 1473.2,1928.9"/><path stroke="#009d5e" d="M1473.2,1928.9 1476.5,1930.4 1480.4,1932.0 1485.1,1933.7 1490.4,1935.5"/><path stroke="#00a466" d="M1490.4,1935.5 1496.2,1937.3 1502.4,1939.1 1508.5,1940.9 1514.6,1942.6 1520.3,1944.3 1525.5,1945.8 1530.2,1947.2 1534.5,1948.6 1538.6,1950.0 1542.5,1951.2 1546.3,1952.4 1550.1,1953.6 1553.9,1954.6 1557.9,1955.5 1561.9,1956.3 1566.0,1956.9 1570.0,1957.5 1574.1,1957.9 1578.1,1958.3 1582.1,1958.8 1586.2,1959.2 1590.2,1959.8 1594.2,1960.5 1598.3,1961.2 1602.3,1962.0 1606.4,1962.8 1610.5,1963.6 1614.5,1964.3 1618.6,1964.8 1622.6,1965.2 1626.7,1965.4 1630.8,1965.5 1634.9,1965.4 1639.0,1965.3 1643.1,1965.0 1647.1,1964.8 1651.1,1964.4 1654.9,1964.1 1658.6,1963.7 1662.3,1963.2 1665.8,1962.7 1669.4,1962.1 1672.8,1961.5 1676.2,1960.9 1679.6,1960.3 1683.0,1959.8 1686.3,1959.3 1689.6,1958.8 1692.7,1958.2 1695.9,1957.7 1699.1,1957.3 1702.2,1956.9 1705.5,1956.7 1708.8,1956.6 1712.4,1956.7 1716.3,1957.0 1720.4,1957.5 1724.5,1958.0 1728.3,1958.6 1731.8,1959.1 1734.7,1959.5 1736.9,1959.8"/></g>
<g fill="none" stroke-width="7" stroke-linejoin="round" stroke-linecap="round" filter="url(#sb)"><path stroke="#ff8f22" d="M232.5,2325.9 247.9,2325.9 269.3,2325.8 295.0,2325.7 323.0,2325.7 351.3,2325.6 377.9,2325.4 401.1,2325.3 418.7,2325.1 431.0,2324.9 439.8,2324.7 445.9,2324.5 449.9,2324.2 452.7,2323.9 454.9,2323.6 457.3,2323.1 460.5,2322.5 464.2,2321.8 467.4,2320.8 470.2,2319.8 472.7,2318.7 475.0,2317.6 477.2,2316.5 479.3,2315.5 481.4,2314.6 483.5,2313.8 485.4,2313.0 487.2,2312.2 488.9,2311.5 490.6,2310.8 492.1,2310.2 493.6,2309.6 495.0,2309.0 496.3,2308.5 497.5,2308.1 498.5,2307.7 499.6,2307.4 500.6,2307.0 501.6,2306.7 502.7,2306.2 504.0,2305.7 505.4,2305.1 507.0,2304.4 508.7,2303.6 510.4,2302.8 512.1,2302.0 513.7,2301.2 515.3,2300.4 516.7,2299.7 518.0,2299.0"/><path stroke="#ff8a1c" d="M518.0,2299.0 519.2,2298.4 520.3,2297.7 521.4,2297.1 522.4,2296.5 523.3,2295.9 524.3,2295.2 525.2,2294.6 526.1,2294.0 526.9,2293.4 527.7,2292.8 528.4,2292.3"/><path stroke="#ff8617" d="M528.4,2292.3 529.1,2291.7 529.8,2291.0 530.5,2290.3"/><path stroke="#ff8211" d="M530.5,2290.3 531.2,2289.5 531.9,2288.6"/><path stroke="#ff7d0b" d="M531.9,2288.6 532.6,2287.6"/><path stroke="#ff7806" d="M532.6,2287.6 533.3,2286.5 533.9,2285.4 534.6,2284.2 535.2,2283.1 535.8,2282.0 536.3,2281.0"/><path stroke="#ff7806" transform="translate(-0.37,0)" d="M536.3,2281.0 536.8,2280.1 537.3,2279.2"/><path stroke="#ff7806" transform="translate(-0.12,0)" d="M536.3,2281.0 536.8,2280.1 537.3,2279.2"/><path stroke="#ff7806" transform="translate(0.12,0)" d="M536.3,2281.0 536.8,2280.1 537.3,2279.2"/><path stroke="#ff7806" transform="translate(0.37,0)" d="M536.3,2281.0 536.8,2280.1 537.3,2279.2"/><path stroke="#ff7400" transform="translate(-0.37,0)" d="M537.3,2279.2 537.7,2278.4 538.1,2277.6 538.5,2276.8 538.9,2276.0 539.3,2275.1 539.7,2274.2 540.1,2273.2 540.6,2272.3 541.0,2271.2 541.5,2270.2"/><path stroke="#ff7400" transform="translate(-0.12,0)" d="M537.3,2279.2 537.7,2278.4 538.1,2277.6 538.5,2276.8 538.9,2276.0 539.3,2275.1 539.7,2274.2 540.1,2273.2 540.6,2272.3 541.0,2271.2 541.5,2270.2"/><path stroke="#ff7400" transform="translate(0.12,0)" d="M537.3,2279.2 537.7,2278.4 538.1,2277.6 538.5,2276.8 538.9,2276.0 539.3,2275.1 539.7,2274.2 540.1,2273.2 540.6,2272.3 541.0,2271.2 541.5,2270.2"/><path stroke="#ff7400" transform="translate(0.37,0)" d="M537.3,2279.2 537.7,2278.4 538.1,2277.6 538.5,2276.8 538.9,2276.0 539.3,2275.1 539.7,2274.2 540.1,2273.2 540.6,2272.3 541.0,2271.2 541.5,2270.2"/><path stroke="#ff7400" transform="translate(-0.73,0)" d="M541.5,2270.2 541.9,2269.1 542.4,2268.0"/><path stroke="#ff7400" transform="translate(-0.23,0)" d="M541.5,2270.2 541.9,2269.1 542.4,2268.0"/><path stroke="#ff7400" transform="translate(0.23,0)" d="M541.5,2270.2 541.9,2269.1 542.4,2268.0"/><path stroke="#ff7400" transform="translate(0.73,0)" d="M541.5,2270.2 541.9,2269.1 542.4,2268.0"/><path stroke="#ff7400" transform="translate(-1.1,0)" d="M542.4,2268.0 542.8,2266.9"/><path stroke="#ff7400" transform="translate(-0.35,0)" d="M542.4,2268.0 542.8,2266.9"/><path stroke="#ff7400" transform="translate(0.35,0)" d="M542.4,2268.0 542.8,2266.9"/><path stroke="#ff7400" transform="translate(1.1,0)" d="M542.4,2268.0 542.8,2266.9"/><path stroke="#ff7400" transform="translate(-1.47,0)" d="M542.8,2266.9 543.1,2265.7"/><path stroke="#ff7400" transform="translate(-0.47,0)" d="M542.8,2266.9 543.1,2265.7"/><path stroke="#ff7400" transform="translate(0.47,0)" d="M542.8,2266.9 543.1,2265.7"/><path stroke="#ff7400" transform="translate(1.47,0)" d="M542.8,2266.9 543.1,2265.7"/><path stroke="#ff7400" transform="translate(-2.2,0)" d="M543.1,2265.7 543.4,2264.4 543.6,2263.1 543.9,2261.7 544.1,2260.2 544.2,2258.8 544.4,2257.4 544.6,2256.0 544.8,2254.7 545.0,2253.5 545.2,2252.3 545.4,2251.1 545.5,2250.0 545.7,2248.9 546.0,2247.7 546.2,2246.6"/><path stroke="#ff7400" transform="translate(-0.7,0)" d="M543.1,2265.7 543.4,2264.4 543.6,2263.1 543.9,2261.7 544.1,2260.2 544.2,2258.8 544.4,2257.4 544.6,2256.0 544.8,2254.7 545.0,2253.5 545.2,2252.3 545.4,2251.1 545.5,2250.0 545.7,2248.9 546.0,2247.7 546.2,2246.6"/><path stroke="#ff7400" transform="translate(0.7,0)" d="M543.1,2265.7 543.4,2264.4 543.6,2263.1 543.9,2261.7 544.1,2260.2 544.2,2258.8 544.4,2257.4 544.6,2256.0 544.8,2254.7 545.0,2253.5 545.2,2252.3 545.4,2251.1 545.5,2250.0 545.7,2248.9 546.0,2247.7 546.2,2246.6"/><path stroke="#ff7400" transform="translate(2.2,0)" d="M543.1,2265.7 543.4,2264.4 543.6,2263.1 543.9,2261.7 544.1,2260.2 544.2,2258.8 544.4,2257.4 544.6,2256.0 544.8,2254.7 545.0,2253.5 545.2,2252.3 545.4,2251.1 545.5,2250.0 545.7,2248.9 546.0,2247.7 546.2,2246.6"/><path stroke="#ff7400" transform="translate(-1.83,0)" d="M546.2,2246.6 546.5,2245.4"/><path stroke="#ff7400" transform="translate(-0.58,0)" d="M546.2,2246.6 546.5,2245.4"/><path stroke="#ff7400" transform="translate(0.58,0)" d="M546.2,2246.6 546.5,2245.4"/><path stroke="#ff7400" transform="translate(1.83,0)" d="M546.2,2246.6 546.5,2245.4"/><path stroke="#ff7400" transform="translate(-1.47,0)" d="M546.5,2245.4 546.9,2244.2"/><path stroke="#ff7400" transform="translate(-0.47,0)" d="M546.5,2245.4 546.9,2244.2"/><path stroke="#ff7400" transform="translate(0.47,0)" d="M546.5,2245.4 546.9,2244.2"/><path stroke="#ff7400" transform="translate(1.47,0)" d="M546.5,2245.4 546.9,2244.2"/><path stroke="#ff7400" transform="translate(-1.1,0)" d="M546.9,2244.2 547.3,2242.9 547.7,2241.6 548.2,2240.4 548.7,2239.1 549.1,2237.8 549.5,2236.5"/><path stroke="#ff7400" transform="translate(-0.35,0)" d="M546.9,2244.2 547.3,2242.9 547.7,2241.6 548.2,2240.4 548.7,2239.1 549.1,2237.8 549.5,2236.5"/><path stroke="#ff7400" transform="translate(0.35,0)" d="M546.9,2244.2 547.3,2242.9 547.7,2241.6 548.2,2240.4 548.7,2239.1 549.1,2237.8 549.5,2236.5"/><path stroke="#ff7400" transform="translate(1.1,0)" d="M546.9,2244.2 547.3,2242.9 547.7,2241.6 548.2,2240.4 548.7,2239.1 549.1,2237.8 549.5,2236.5"/><path stroke="#ff7400" transform="translate(-1.47,0)" d="M549.5,2236.5 549.9,2235.2"/><path stroke="#ff7400" transform="translate(-0.47,0)" d="M549.5,2236.5 549.9,2235.2"/><path stroke="#ff7400" transform="translate(0.47,0)" d="M549.5,2236.5 549.9,2235.2"/><path stroke="#ff7400" transform="translate(1.47,0)" d="M549.5,2236.5 549.9,2235.2"/><path stroke="#ff7400" transform="translate(-2.2,0)" d="M549.9,2235.2 550.2,2233.9 550.4,2232.7 550.7,2231.5 550.9,2230.3 551.0,2229.0 551.2,2227.7 551.4,2226.4 551.6,2225.0 551.8,2223.5 552.0,2222.0 552.2,2220.4 552.4,2218.8 552.6,2217.1 552.8,2215.5 553.0,2213.8 553.3,2212.2 553.6,2210.6 553.9,2209.0 554.2,2207.4 554.5,2205.8 554.8,2204.3 555.1,2202.7 555.5,2201.1 555.8,2199.5 556.1,2197.9 556.5,2196.3 556.8,2194.7 557.1,2193.1 557.5,2191.5 557.8,2189.9 558.1,2188.3 558.4,2186.7 558.7,2185.1 558.9,2183.5 559.1,2181.9 559.3,2180.3 559.5,2178.8 559.7,2177.2 559.9,2175.6 560.1,2174.0 560.3,2172.4 560.6,2170.9 560.8,2169.3 561.1,2167.8 561.3,2166.2 561.5,2164.6 561.8,2162.9 562.0,2161.2 562.2,2159.5 562.3,2158.0 562.5,2156.5 562.6,2154.9 562.7,2153.2 562.9,2151.2 563.2,2148.8 563.5,2146.1 563.9,2142.9 564.3,2139.2 564.8,2135.1 565.4,2130.9 566.0,2126.4 566.6,2122.0 567.2,2117.6 567.9,2113.4 568.6,2109.3 569.4,2105.1 570.2,2101.0 571.1,2096.8 572.0,2092.7 572.8,2088.6 573.6,2084.6 574.4,2080.7 575.1,2076.9 575.8,2073.1 576.4,2069.4 577.0,2065.8 577.7,2062.2 578.3,2058.7 579.0,2055.3 579.7,2052.0"/><path stroke="#ff7400" transform="translate(-0.7,0)" d="M549.9,2235.2 550.2,2233.9 550.4,2232.7 550.7,2231.5 550.9,2230.3 551.0,2229.0 551.2,2227.7 551.4,2226.4 551.6,2225.0 551.8,2223.5 552.0,2222.0 552.2,2220.4 552.4,2218.8 552.6,2217.1 552.8,2215.5 553.0,2213.8 553.3,2212.2 553.6,2210.6 553.9,2209.0 554.2,2207.4 554.5,2205.8 554.8,2204.3 555.1,2202.7 555.5,2201.1 555.8,2199.5 556.1,2197.9 556.5,2196.3 556.8,2194.7 557.1,2193.1 557.5,2191.5 557.8,2189.9 558.1,2188.3 558.4,2186.7 558.7,2185.1 558.9,2183.5 559.1,2181.9 559.3,2180.3 559.5,2178.8 559.7,2177.2 559.9,2175.6 560.1,2174.0 560.3,2172.4 560.6,2170.9 560.8,2169.3 561.1,2167.8 561.3,2166.2 561.5,2164.6 561.8,2162.9 562.0,2161.2 562.2,2159.5 562.3,2158.0 562.5,2156.5 562.6,2154.9 562.7,2153.2 562.9,2151.2 563.2,2148.8 563.5,2146.1 563.9,2142.9 564.3,2139.2 564.8,2135.1 565.4,2130.9 566.0,2126.4 566.6,2122.0 567.2,2117.6 567.9,2113.4 568.6,2109.3 569.4,2105.1 570.2,2101.0 571.1,2096.8 572.0,2092.7 572.8,2088.6 573.6,2084.6 574.4,2080.7 575.1,2076.9 575.8,2073.1 576.4,2069.4 577.0,2065.8 577.7,2062.2 578.3,2058.7 579.0,2055.3 579.7,2052.0"/><path stroke="#ff7400" transform="translate(0.7,0)" d="M549.9,2235.2 550.2,2233.9 550.4,2232.7 550.7,2231.5 550.9,2230.3 551.0,2229.0 551.2,2227.7 551.4,2226.4 551.6,2225.0 551.8,2223.5 552.0,2222.0 552.2,2220.4 552.4,2218.8 552.6,2217.1 552.8,2215.5 553.0,2213.8 553.3,2212.2 553.6,2210.6 553.9,2209.0 554.2,2207.4 554.5,2205.8 554.8,2204.3 555.1,2202.7 555.5,2201.1 555.8,2199.5 556.1,2197.9 556.5,2196.3 556.8,2194.7 557.1,2193.1 557.5,2191.5 557.8,2189.9 558.1,2188.3 558.4,2186.7 558.7,2185.1 558.9,2183.5 559.1,2181.9 559.3,2180.3 559.5,2178.8 559.7,2177.2 559.9,2175.6 560.1,2174.0 560.3,2172.4 560.6,2170.9 560.8,2169.3 561.1,2167.8 561.3,2166.2 561.5,2164.6 561.8,2162.9 562.0,2161.2 562.2,2159.5 562.3,2158.0 562.5,2156.5 562.6,2154.9 562.7,2153.2 562.9,2151.2 563.2,2148.8 563.5,2146.1 563.9,2142.9 564.3,2139.2 564.8,2135.1 565.4,2130.9 566.0,2126.4 566.6,2122.0 567.2,2117.6 567.9,2113.4 568.6,2109.3 569.4,2105.1 570.2,2101.0 571.1,2096.8 572.0,2092.7 572.8,2088.6 573.6,2084.6 574.4,2080.7 575.1,2076.9 575.8,2073.1 576.4,2069.4 577.0,2065.8 577.7,2062.2 578.3,2058.7 579.0,2055.3 579.7,2052.0"/><path stroke="#ff7400" transform="translate(2.2,0)" d="M549.9,2235.2 550.2,2233.9 550.4,2232.7 550.7,2231.5 550.9,2230.3 551.0,2229.0 551.2,2227.7 551.4,2226.4 551.6,2225.0 551.8,2223.5 552.0,2222.0 552.2,2220.4 552.4,2218.8 552.6,2217.1 552.8,2215.5 553.0,2213.8 553.3,2212.2 553.6,2210.6 553.9,2209.0 554.2,2207.4 554.5,2205.8 554.8,2204.3 555.1,2202.7 555.5,2201.1 555.8,2199.5 556.1,2197.9 556.5,2196.3 556.8,2194.7 557.1,2193.1 557.5,2191.5 557.8,2189.9 558.1,2188.3 558.4,2186.7 558.7,2185.1 558.9,2183.5 559.1,2181.9 559.3,2180.3 559.5,2178.8 559.7,2177.2 559.9,2175.6 560.1,2174.0 560.3,2172.4 560.6,2170.9 560.8,2169.3 561.1,2167.8 561.3,2166.2 561.5,2164.6 561.8,2162.9 562.0,2161.2 562.2,2159.5 562.3,2158.0 562.5,2156.5 562.6,2154.9 562.7,2153.2 562.9,2151.2 563.2,2148.8 563.5,2146.1 563.9,2142.9 564.3,2139.2 564.8,2135.1 565.4,2130.9 566.0,2126.4 566.6,2122.0 567.2,2117.6 567.9,2113.4 568.6,2109.3 569.4,2105.1 570.2,2101.0 571.1,2096.8 572.0,2092.7 572.8,2088.6 573.6,2084.6 574.4,2080.7 575.1,2076.9 575.8,2073.1 576.4,2069.4 577.0,2065.8 577.7,2062.2 578.3,2058.7 579.0,2055.3 579.7,2052.0"/><path stroke="#ff7400" transform="translate(-1.83,0)" d="M579.7,2052.0 580.5,2048.8 581.2,2045.7"/><path stroke="#ff7400" transform="translate(-0.58,0)" d="M579.7,2052.0 580.5,2048.8 581.2,2045.7"/><path stroke="#ff7400" transform="translate(0.58,0)" d="M579.7,2052.0 580.5,2048.8 581.2,2045.7"/><path stroke="#ff7400" transform="translate(1.83,0)" d="M579.7,2052.0 580.5,2048.8 581.2,2045.7"/><path stroke="#ff7400" transform="translate(-1.47,0)" d="M581.2,2045.7 582.0,2042.8 582.9,2039.9 583.7,2037.0 584.5,2034.2 585.4,2031.3 586.2,2028.4 587.0,2025.4 587.9,2022.4 588.7,2019.4 589.5,2016.3 590.4,2013.3 591.2,2010.4 591.9,2007.6 592.7,2004.9 593.4,2002.3 594.1,1999.9 594.7,1997.5 595.3,1995.2 595.9,1992.9 596.5,1990.8"/><path stroke="#ff7400" transform="translate(-0.47,0)" d="M581.2,2045.7 582.0,2042.8 582.9,2039.9 583.7,2037.0 584.5,2034.2 585.4,2031.3 586.2,2028.4 587.0,2025.4 587.9,2022.4 588.7,2019.4 589.5,2016.3 590.4,2013.3 591.2,2010.4 591.9,2007.6 592.7,2004.9 593.4,2002.3 594.1,1999.9 594.7,1997.5 595.3,1995.2 595.9,1992.9 596.5,1990.8"/><path stroke="#ff7400" transform="translate(0.47,0)" d="M581.2,2045.7 582.0,2042.8 582.9,2039.9 583.7,2037.0 584.5,2034.2 585.4,2031.3 586.2,2028.4 587.0,2025.4 587.9,2022.4 588.7,2019.4 589.5,2016.3 590.4,2013.3 591.2,2010.4 591.9,2007.6 592.7,2004.9 593.4,2002.3 594.1,1999.9 594.7,1997.5 595.3,1995.2 595.9,1992.9 596.5,1990.8"/><path stroke="#ff7400" transform="translate(1.47,0)" d="M581.2,2045.7 582.0,2042.8 582.9,2039.9 583.7,2037.0 584.5,2034.2 585.4,2031.3 586.2,2028.4 587.0,2025.4 587.9,2022.4 588.7,2019.4 589.5,2016.3 590.4,2013.3 591.2,2010.4 591.9,2007.6 592.7,2004.9 593.4,2002.3 594.1,1999.9 594.7,1997.5 595.3,1995.2 595.9,1992.9 596.5,1990.8"/><path stroke="#ff7400" transform="translate(-1.1,0)" d="M596.5,1990.8 597.2,1988.7"/><path stroke="#ff7400" transform="translate(-0.35,0)" d="M596.5,1990.8 597.2,1988.7"/><path stroke="#ff7400" transform="translate(0.35,0)" d="M596.5,1990.8 597.2,1988.7"/><path stroke="#ff7400" transform="translate(1.1,0)" d="M596.5,1990.8 597.2,1988.7"/><path stroke="#ff7400" transform="translate(-0.73,0)" d="M597.2,1988.7 598.0,1986.6 598.8,1984.6"/><path stroke="#ff7400" transform="translate(-0.23,0)" d="M597.2,1988.7 598.0,1986.6 598.8,1984.6"/><path stroke="#ff7400" transform="translate(0.23,0)" d="M597.2,1988.7 598.0,1986.6 598.8,1984.6"/><path stroke="#ff7400" transform="translate(0.73,0)" d="M597.2,1988.7 598.0,1986.6 598.8,1984.6"/><path stroke="#ff7400" transform="translate(-0.37,0)" d="M598.8,1984.6 599.7,1982.6 600.6,1980.8 601.6,1979.0"/><path stroke="#ff7400" transform="translate(-0.12,0)" d="M598.8,1984.6 599.7,1982.6 600.6,1980.8 601.6,1979.0"/><path stroke="#ff7400" transform="translate(0.12,0)" d="M598.8,1984.6 599.7,1982.6 600.6,1980.8 601.6,1979.0"/><path stroke="#ff7400" transform="translate(0.37,0)" d="M598.8,1984.6 599.7,1982.6 600.6,1980.8 601.6,1979.0"/><path stroke="#ff7806" d="M601.6,1979.0 602.6,1977.2 603.6,1975.5"/><path stroke="#ff7d0b" d="M603.6,1975.5 604.7,1973.8 605.8,1972.2 607.0,1970.5 608.2,1968.8"/><path stroke="#ff8211" d="M608.2,1968.8 609.5,1967.1 610.9,1965.5 612.3,1964.0"/><path stroke="#ff8617" d="M612.3,1964.0 613.6,1962.7"/><path stroke="#ff8a1c" d="M613.6,1962.7 615.0,1961.7"/><path stroke="#ff8f22" d="M615.0,1961.7 616.3,1961.1 617.6,1960.9 619.0,1960.9 620.3,1961.3 621.7,1961.9"/><path stroke="#ff8a1c" d="M621.7,1961.9 623.0,1962.7 624.3,1963.6"/><path stroke="#ff8617" d="M624.3,1963.6 625.5,1964.6 626.7,1965.7"/><path stroke="#ff8211" d="M626.7,1965.7 627.8,1966.9 628.9,1968.3"/><path stroke="#ff7d0b" d="M628.9,1968.3 630.0,1969.9"/><path stroke="#ff7806" d="M630.0,1969.9 631.0,1971.6 631.9,1973.4"/><path stroke="#ff7400" transform="translate(-0.37,0)" d="M631.9,1973.4 632.9,1975.2 633.8,1977.0 634.6,1978.8 635.4,1980.5"/><path stroke="#ff7400" transform="translate(-0.12,0)" d="M631.9,1973.4 632.9,1975.2 633.8,1977.0 634.6,1978.8 635.4,1980.5"/><path stroke="#ff7400" transform="translate(0.12,0)" d="M631.9,1973.4 632.9,1975.2 633.8,1977.0 634.6,1978.8 635.4,1980.5"/><path stroke="#ff7400" transform="translate(0.37,0)" d="M631.9,1973.4 632.9,1975.2 633.8,1977.0 634.6,1978.8 635.4,1980.5"/><path stroke="#ff7400" transform="translate(-0.73,0)" d="M635.4,1980.5 636.1,1982.2 636.7,1984.0"/><path stroke="#ff7400" transform="translate(-0.23,0)" d="M635.4,1980.5 636.1,1982.2 636.7,1984.0"/><path stroke="#ff7400" transform="translate(0.23,0)" d="M635.4,1980.5 636.1,1982.2 636.7,1984.0"/><path stroke="#ff7400" transform="translate(0.73,0)" d="M635.4,1980.5 636.1,1982.2 636.7,1984.0"/><path stroke="#ff7400" transform="translate(-1.1,0)" d="M636.7,1984.0 637.4,1985.7 638.0,1987.5 638.6,1989.3 639.2,1991.2 639.8,1993.1 640.5,1995.1 641.1,1997.1 641.8,1999.2 642.5,2001.3 643.1,2003.5"/><path stroke="#ff7400" transform="translate(-0.35,0)" d="M636.7,1984.0 637.4,1985.7 638.0,1987.5 638.6,1989.3 639.2,1991.2 639.8,1993.1 640.5,1995.1 641.1,1997.1 641.8,1999.2 642.5,2001.3 643.1,2003.5"/><path stroke="#ff7400" transform="translate(0.35,0)" d="M636.7,1984.0 637.4,1985.7 638.0,1987.5 638.6,1989.3 639.2,1991.2 639.8,1993.1 640.5,1995.1 641.1,1997.1 641.8,1999.2 642.5,2001.3 643.1,2003.5"/><path stroke="#ff7400" transform="translate(1.1,0)" d="M636.7,1984.0 637.4,1985.7 638.0,1987.5 638.6,1989.3 639.2,1991.2 639.8,1993.1 640.5,1995.1 641.1,1997.1 641.8,1999.2 642.5,2001.3 643.1,2003.5"/><path stroke="#ff7400" transform="translate(-1.47,0)" d="M643.1,2003.5 643.8,2005.7 644.4,2007.9 645.0,2010.1"/><path stroke="#ff7400" transform="translate(-0.47,0)" d="M643.1,2003.5 643.8,2005.7 644.4,2007.9 645.0,2010.1"/><path stroke="#ff7400" transform="translate(0.47,0)" d="M643.1,2003.5 643.8,2005.7 644.4,2007.9 645.0,2010.1"/><path stroke="#ff7400" transform="translate(1.47,0)" d="M643.1,2003.5 643.8,2005.7 644.4,2007.9 645.0,2010.1"/><path stroke="#ff7400" transform="translate(-1.83,0)" d="M645.0,2010.1 645.5,2012.3"/><path stroke="#ff7400" transform="translate(-0.58,0)" d="M645.0,2010.1 645.5,2012.3"/><path stroke="#ff7400" transform="translate(0.58,0)" d="M645.0,2010.1 645.5,2012.3"/><path stroke="#ff7400" transform="translate(1.83,0)" d="M645.0,2010.1 645.5,2012.3"/><path stroke="#ff7400" transform="translate(-2.2,0)" d="M645.5,2012.3 646.1,2014.5 646.5,2016.8 647.0,2019.0 647.5,2021.3 647.9,2023.6 648.5,2026.0 649.0,2028.4"/><path stroke="#ff7400" transform="translate(-0.7,0)" d="M645.5,2012.3 646.1,2014.5 646.5,2016.8 647.0,2019.0 647.5,2021.3 647.9,2023.6 648.5,2026.0 649.0,2028.4"/><path stroke="#ff7400" transform="translate(0.7,0)" d="M645.5,2012.3 646.1,2014.5 646.5,2016.8 647.0,2019.0 647.5,2021.3 647.9,2023.6 648.5,2026.0 649.0,2028.4"/><path stroke="#ff7400" transform="translate(2.2,0)" d="M645.5,2012.3 646.1,2014.5 646.5,2016.8 647.0,2019.0 647.5,2021.3 647.9,2023.6 648.5,2026.0 649.0,2028.4"/><path stroke="#ff7400" transform="translate(-1.83,0)" d="M649.0,2028.4 649.6,2030.9 650.2,2033.5 650.9,2036.2 651.5,2038.9 652.2,2041.5 652.9,2044.2 653.5,2046.8 654.2,2049.3"/><path stroke="#ff7400" transform="translate(-0.58,0)" d="M649.0,2028.4 649.6,2030.9 650.2,2033.5 650.9,2036.2 651.5,2038.9 652.2,2041.5 652.9,2044.2 653.5,2046.8 654.2,2049.3"/><path stroke="#ff7400" transform="translate(0.58,0)" d="M649.0,2028.4 649.6,2030.9 650.2,2033.5 650.9,2036.2 651.5,2038.9 652.2,2041.5 652.9,2044.2 653.5,2046.8 654.2,2049.3"/><path stroke="#ff7400" transform="translate(1.83,0)" d="M649.0,2028.4 649.6,2030.9 650.2,2033.5 650.9,2036.2 651.5,2038.9 652.2,2041.5 652.9,2044.2 653.5,2046.8 654.2,2049.3"/><path stroke="#ff7400" transform="translate(-1.47,0)" d="M654.2,2049.3 654.9,2051.7 655.5,2054.0 656.1,2056.2 656.8,2058.4 657.5,2060.7 658.1,2062.9 658.8,2065.2 659.4,2067.6"/><path stroke="#ff7400" transform="translate(-0.47,0)" d="M654.2,2049.3 654.9,2051.7 655.5,2054.0 656.1,2056.2 656.8,2058.4 657.5,2060.7 658.1,2062.9 658.8,2065.2 659.4,2067.6"/><path stroke="#ff7400" transform="translate(0.47,0)" d="M654.2,2049.3 654.9,2051.7 655.5,2054.0 656.1,2056.2 656.8,2058.4 657.5,2060.7 658.1,2062.9 658.8,2065.2 659.4,2067.6"/><path stroke="#ff7400" transform="translate(1.47,0)" d="M654.2,2049.3 654.9,2051.7 655.5,2054.0 656.1,2056.2 656.8,2058.4 657.5,2060.7 658.1,2062.9 658.8,2065.2 659.4,2067.6"/><path stroke="#ff7400" transform="translate(-1.83,0)" d="M659.4,2067.6 660.0,2070.1 660.7,2072.6 661.3,2075.2 662.0,2077.9 662.6,2080.5 663.3,2083.2 663.9,2085.9 664.6,2088.6 665.3,2091.3 665.9,2094.1 666.6,2097.0 667.2,2099.8 667.9,2102.6 668.6,2105.4 669.2,2108.1 669.9,2110.8 670.5,2113.4 671.2,2116.0 671.8,2118.5 672.4,2121.0 673.1,2123.4"/><path stroke="#ff7400" transform="translate(-0.58,0)" d="M659.4,2067.6 660.0,2070.1 660.7,2072.6 661.3,2075.2 662.0,2077.9 662.6,2080.5 663.3,2083.2 663.9,2085.9 664.6,2088.6 665.3,2091.3 665.9,2094.1 666.6,2097.0 667.2,2099.8 667.9,2102.6 668.6,2105.4 669.2,2108.1 669.9,2110.8 670.5,2113.4 671.2,2116.0 671.8,2118.5 672.4,2121.0 673.1,2123.4"/><path stroke="#ff7400" transform="translate(0.58,0)" d="M659.4,2067.6 660.0,2070.1 660.7,2072.6 661.3,2075.2 662.0,2077.9 662.6,2080.5 663.3,2083.2 663.9,2085.9 664.6,2088.6 665.3,2091.3 665.9,2094.1 666.6,2097.0 667.2,2099.8 667.9,2102.6 668.6,2105.4 669.2,2108.1 669.9,2110.8 670.5,2113.4 671.2,2116.0 671.8,2118.5 672.4,2121.0 673.1,2123.4"/><path stroke="#ff7400" transform="translate(1.83,0)" d="M659.4,2067.6 660.0,2070.1 660.7,2072.6 661.3,2075.2 662.0,2077.9 662.6,2080.5 663.3,2083.2 663.9,2085.9 664.6,2088.6 665.3,2091.3 665.9,2094.1 666.6,2097.0 667.2,2099.8 667.9,2102.6 668.6,2105.4 669.2,2108.1 669.9,2110.8 670.5,2113.4 671.2,2116.0 671.8,2118.5 672.4,2121.0 673.1,2123.4"/><path stroke="#ff7400" transform="translate(-1.47,0)" d="M673.1,2123.4 673.7,2125.8 674.4,2128.2"/><path stroke="#ff7400" transform="translate(-0.47,0)" d="M673.1,2123.4 673.7,2125.8 674.4,2128.2"/><path stroke="#ff7400" transform="translate(0.47,0)" d="M673.1,2123.4 673.7,2125.8 674.4,2128.2"/><path stroke="#ff7400" transform="translate(1.47,0)" d="M673.1,2123.4 673.7,2125.8 674.4,2128.2"/><path stroke="#ff7400" transform="translate(-1.1,0)" d="M674.4,2128.2 675.1,2130.4"/><path stroke="#ff7400" transform="translate(-0.35,0)" d="M674.4,2128.2 675.1,2130.4"/><path stroke="#ff7400" transform="translate(0.35,0)" d="M674.4,2128.2 675.1,2130.4"/><path stroke="#ff7400" transform="translate(1.1,0)" d="M674.4,2128.2 675.1,2130.4"/><path stroke="#ff7400" transform="translate(-0.73,0)" d="M675.1,2130.4 675.8,2132.5 676.6,2134.3"/><path stroke="#ff7400" transform="translate(-0.23,0)" d="M675.1,2130.4 675.8,2132.5 676.6,2134.3"/><path stroke="#ff7400" transform="translate(0.23,0)" d="M675.1,2130.4 675.8,2132.5 676.6,2134.3"/><path stroke="#ff7400" transform="translate(0.73,0)" d="M675.1,2130.4 675.8,2132.5 676.6,2134.3"/><path stroke="#ff7400" transform="translate(-0.37,0)" d="M676.6,2134.3 677.4,2136.0 678.2,2137.7 679.0,2139.4 679.9,2141.4"/><path stroke="#ff7400" transform="translate(-0.12,0)" d="M676.6,2134.3 677.4,2136.0 678.2,2137.7 679.0,2139.4 679.9,2141.4"/><path stroke="#ff7400" transform="translate(0.12,0)" d="M676.6,2134.3 677.4,2136.0 678.2,2137.7 679.0,2139.4 679.9,2141.4"/><path stroke="#ff7400" transform="translate(0.37,0)" d="M676.6,2134.3 677.4,2136.0 678.2,2137.7 679.0,2139.4 679.9,2141.4"/><path stroke="#ff7400" transform="translate(-0.73,0)" d="M679.9,2141.4 680.7,2143.5"/><path stroke="#ff7400" transform="translate(-0.23,0)" d="M679.9,2141.4 680.7,2143.5"/><path stroke="#ff7400" transform="translate(0.23,0)" d="M679.9,2141.4 680.7,2143.5"/><path stroke="#ff7400" transform="translate(0.73,0)" d="M679.9,2141.4 680.7,2143.5"/><path stroke="#ff7400" transform="translate(-1.1,0)" d="M680.7,2143.5 681.6,2146.1"/><path stroke="#ff7400" transform="translate(-0.35,0)" d="M680.7,2143.5 681.6,2146.1"/><path stroke="#ff7400" transform="translate(0.35,0)" d="M680.7,2143.5 681.6,2146.1"/><path stroke="#ff7400" transform="translate(1.1,0)" d="M680.7,2143.5 681.6,2146.1"/><path stroke="#ff7400" transform="translate(-1.47,0)" d="M681.6,2146.1 682.4,2149.0"/><path stroke="#ff7400" transform="translate(-0.47,0)" d="M681.6,2146.1 682.4,2149.0"/><path stroke="#ff7400" transform="translate(0.47,0)" d="M681.6,2146.1 682.4,2149.0"/><path stroke="#ff7400" transform="translate(1.47,0)" d="M681.6,2146.1 682.4,2149.0"/><path stroke="#ff7400" transform="translate(-1.83,0)" d="M682.4,2149.0 683.2,2152.3 683.9,2155.8 684.7,2159.5 685.6,2163.3 686.5,2167.1"/><path stroke="#ff7400" transform="translate(-0.58,0)" d="M682.4,2149.0 683.2,2152.3 683.9,2155.8 684.7,2159.5 685.6,2163.3 686.5,2167.1"/><path stroke="#ff7400" transform="translate(0.58,0)" d="M682.4,2149.0 683.2,2152.3 683.9,2155.8 684.7,2159.5 685.6,2163.3 686.5,2167.1"/><path stroke="#ff7400" transform="translate(1.83,0)" d="M682.4,2149.0 683.2,2152.3 683.9,2155.8 684.7,2159.5 685.6,2163.3 686.5,2167.1"/><path stroke="#ff7400" transform="translate(-1.47,0)" d="M686.5,2167.1 687.7,2171.0"/><path stroke="#ff7400" transform="translate(-0.47,0)" d="M686.5,2167.1 687.7,2171.0"/><path stroke="#ff7400" transform="translate(0.47,0)" d="M686.5,2167.1 687.7,2171.0"/><path stroke="#ff7400" transform="translate(1.47,0)" d="M686.5,2167.1 687.7,2171.0"/><path stroke="#ff7400" transform="translate(-1.1,0)" d="M687.7,2171.0 689.0,2174.8"/><path stroke="#ff7400" transform="translate(-0.35,0)" d="M687.7,2171.0 689.0,2174.8"/><path stroke="#ff7400" transform="translate(0.35,0)" d="M687.7,2171.0 689.0,2174.8"/><path stroke="#ff7400" transform="translate(1.1,0)" d="M687.7,2171.0 689.0,2174.8"/><path stroke="#ff7400" transform="translate(-0.73,0)" d="M689.0,2174.8 690.5,2178.7 692.3,2182.8"/><path stroke="#ff7400" transform="translate(-0.23,0)" d="M689.0,2174.8 690.5,2178.7 692.3,2182.8"/><path stroke="#ff7400" transform="translate(0.23,0)" d="M689.0,2174.8 690.5,2178.7 692.3,2182.8"/><path stroke="#ff7400" transform="translate(0.73,0)" d="M689.0,2174.8 690.5,2178.7 692.3,2182.8"/><path stroke="#ff7400" transform="translate(-0.37,0)" d="M692.3,2182.8 694.2,2187.1 696.2,2191.3 698.3,2195.5"/><path stroke="#ff7400" transform="translate(-0.12,0)" d="M692.3,2182.8 694.2,2187.1 696.2,2191.3 698.3,2195.5"/><path stroke="#ff7400" transform="translate(0.12,0)" d="M692.3,2182.8 694.2,2187.1 696.2,2191.3 698.3,2195.5"/><path stroke="#ff7400" transform="translate(0.37,0)" d="M692.3,2182.8 694.2,2187.1 696.2,2191.3 698.3,2195.5"/><path stroke="#ff7806" d="M698.3,2195.5 700.4,2199.4 702.6,2203.0"/><path stroke="#ff7d0b" d="M702.6,2203.0 704.7,2206.2"/><path stroke="#ff8211" d="M704.7,2206.2 706.8,2208.9 708.9,2211.2"/><path stroke="#ff8617" d="M708.9,2211.2 711.0,2213.2 713.2,2214.9"/><path stroke="#ff8a1c" d="M713.2,2214.9 715.4,2216.6 717.8,2218.3 720.3,2220.0 723.0,2221.9 725.9,2224.0 729.0,2226.2 732.3,2228.5 735.6,2230.8 739.0,2233.0 742.5,2235.2 745.9,2237.1"/><path stroke="#ff8f22" d="M745.9,2237.1 749.2,2238.9 752.5,2240.4 755.7,2241.8 759.0,2243.0 762.3,2244.1 765.5,2245.1 768.8,2246.0 772.0,2247.0 775.3,2248.0 778.6,2249.0 781.8,2250.1 785.1,2251.1 788.3,2252.2 791.6,2253.1 794.9,2254.0 798.1,2254.8 801.4,2255.4 804.6,2255.9 807.6,2256.3 810.6,2256.6 813.7,2256.8 816.8,2257.0 820.1,2257.1 823.7,2257.1 827.6,2257.2 832.0,2257.3 836.9,2257.3 842.2,2257.3 847.5,2257.3 852.9,2257.2 858.0,2257.0 862.7,2256.8 866.8,2256.4 870.3,2255.9 873.4,2255.3 876.1,2254.7 878.6,2253.9 880.9,2253.1 883.1,2252.3 885.3,2251.5 887.7,2250.7 890.0,2249.9 892.2,2249.0 894.2,2248.1 896.3,2247.2 898.4,2246.3 900.6,2245.5 903.2,2244.7 906.0,2244.1 909.2,2243.6 912.8,2243.1 916.7,2242.6 920.7,2242.2 924.7,2241.9 928.7,2241.8 932.6,2241.7 936.3,2241.8 939.7,2242.0 942.8,2242.3 945.9,2242.6 948.8,2243.1 951.9,2243.7 955.1,2244.5 958.6,2245.5 962.5,2246.7 966.8,2248.3 971.5,2250.3 976.5,2252.5 981.7,2254.9 986.9,2257.3 992.1,2259.5 997.0,2261.5 1001.7,2263.0 1006.1,2264.1 1010.4,2265.0 1014.6,2265.6 1018.7,2266.1 1022.7,2266.4 1026.6,2266.7 1030.5,2266.8 1034.4,2266.9 1038.3,2267.0 1042.1,2266.9 1045.8,2266.8 1049.5,2266.6 1053.2,2266.3 1056.8,2265.8 1060.3,2265.3 1063.8,2264.6 1067.2,2263.8 1070.4,2262.9 1073.5,2261.9 1076.6,2260.8 1079.8,2259.5 1083.0,2258.1 1086.3,2256.5 1089.9,2254.8"/><path stroke="#ff8a1c" d="M1089.9,2254.8 1093.7,2252.8 1097.8,2250.4 1102.0,2247.8 1106.2,2245.1 1110.5,2242.4 1114.7,2239.8 1118.8,2237.3 1122.6,2235.2"/><path stroke="#ff8f22" d="M1122.6,2235.2 1126.2,2233.4 1129.7,2231.9 1133.1,2230.6 1136.3,2229.4 1139.5,2228.2 1142.6,2226.9 1145.7,2225.5"/><path stroke="#ff8a1c" d="M1145.7,2225.5 1148.8,2223.8 1151.9,2221.8 1155.0,2219.7 1158.2,2217.4 1161.2,2215.0"/><path stroke="#ff8617" d="M1161.2,2215.0 1164.2,2212.6 1166.9,2210.2 1169.4,2207.9 1171.6,2205.8 1173.4,2203.9"/><path stroke="#ff8211" d="M1173.4,2203.9 1174.9,2202.2"/><path stroke="#ff7d0b" d="M1174.9,2202.2 1176.1,2200.5 1177.1,2199.0"/><path stroke="#ff7806" d="M1177.1,2199.0 1178.1,2197.3 1179.0,2195.5"/><path stroke="#ff7806" transform="translate(-0.37,0)" d="M1179.0,2195.5 1180.1,2193.5 1181.4,2191.1"/><path stroke="#ff7806" transform="translate(-0.12,0)" d="M1179.0,2195.5 1180.1,2193.5 1181.4,2191.1"/><path stroke="#ff7806" transform="translate(0.12,0)" d="M1179.0,2195.5 1180.1,2193.5 1181.4,2191.1"/><path stroke="#ff7806" transform="translate(0.37,0)" d="M1179.0,2195.5 1180.1,2193.5 1181.4,2191.1"/><path stroke="#ff7400" transform="translate(-0.37,0)" d="M1181.4,2191.1 1182.9,2188.3 1184.4,2185.2 1186.1,2181.9 1187.7,2178.4 1189.4,2174.8 1191.1,2171.3 1192.8,2168.0 1194.5,2165.0 1196.0,2162.2"/><path stroke="#ff7400" transform="translate(-0.12,0)" d="M1181.4,2191.1 1182.9,2188.3 1184.4,2185.2 1186.1,2181.9 1187.7,2178.4 1189.4,2174.8 1191.1,2171.3 1192.8,2168.0 1194.5,2165.0 1196.0,2162.2"/><path stroke="#ff7400" transform="translate(0.12,0)" d="M1181.4,2191.1 1182.9,2188.3 1184.4,2185.2 1186.1,2181.9 1187.7,2178.4 1189.4,2174.8 1191.1,2171.3 1192.8,2168.0 1194.5,2165.0 1196.0,2162.2"/><path stroke="#ff7400" transform="translate(0.37,0)" d="M1181.4,2191.1 1182.9,2188.3 1184.4,2185.2 1186.1,2181.9 1187.7,2178.4 1189.4,2174.8 1191.1,2171.3 1192.8,2168.0 1194.5,2165.0 1196.0,2162.2"/><path stroke="#ff7806" d="M1196.0,2162.2 1197.5,2159.5 1198.8,2156.8 1200.2,2154.3 1201.7,2151.9"/><path stroke="#ff7d0b" d="M1201.7,2151.9 1203.4,2149.6"/><path stroke="#ff8211" d="M1203.4,2149.6 1205.3,2147.4"/><path stroke="#ff8617" d="M1205.3,2147.4 1207.6,2145.4"/><path stroke="#ff8a1c" d="M1207.6,2145.4 1210.3,2143.6"/><path stroke="#ff8f22" d="M1210.3,2143.6 1213.4,2142.0 1216.7,2140.6 1220.2,2139.2 1223.8,2138.0 1227.3,2136.7 1230.7,2135.4 1233.7,2133.9"/><path stroke="#ff8a1c" d="M1233.7,2133.9 1236.4,2132.3 1238.9,2130.6 1241.2,2128.9 1243.5,2127.1 1245.8,2125.4 1248.1,2123.8 1250.6,2122.2"/><path stroke="#ff8f22" d="M1250.6,2122.2 1253.3,2120.8 1256.3,2119.5 1259.4,2118.2 1262.6,2117.0 1266.0,2115.9 1269.4,2114.9 1272.8,2114.0 1276.2,2113.3 1279.5,2112.7 1282.8,2112.2 1286.0,2111.9 1289.3,2111.7 1292.5,2111.6 1295.8,2111.6 1299.1,2111.8 1302.3,2112.2 1305.6,2112.7 1308.9,2113.4 1312.3,2114.2 1315.7,2115.2 1319.1,2116.4 1322.5,2117.7 1325.7,2119.1 1328.8,2120.7"/><path stroke="#ff8a1c" d="M1328.8,2120.7 1331.8,2122.5 1334.6,2124.5"/><path stroke="#ff8617" d="M1334.6,2124.5 1337.3,2126.6 1339.9,2129.0 1342.4,2131.5"/><path stroke="#ff8211" d="M1342.4,2131.5 1344.8,2134.1 1347.1,2136.7 1349.3,2139.4 1351.4,2142.1"/><path stroke="#ff7d0b" d="M1351.4,2142.1 1353.4,2144.8 1355.2,2147.5"/><path stroke="#ff7806" d="M1355.2,2147.5 1356.9,2150.3 1358.5,2153.1"/><path stroke="#ff7400" transform="translate(-0.37,0)" d="M1358.5,2153.1 1360.0,2156.0 1361.5,2159.0 1363.0,2162.0 1364.4,2165.0"/><path stroke="#ff7400" transform="translate(-0.12,0)" d="M1358.5,2153.1 1360.0,2156.0 1361.5,2159.0 1363.0,2162.0 1364.4,2165.0"/><path stroke="#ff7400" transform="translate(0.12,0)" d="M1358.5,2153.1 1360.0,2156.0 1361.5,2159.0 1363.0,2162.0 1364.4,2165.0"/><path stroke="#ff7400" transform="translate(0.37,0)" d="M1358.5,2153.1 1360.0,2156.0 1361.5,2159.0 1363.0,2162.0 1364.4,2165.0"/><path stroke="#ff7400" transform="translate(-0.73,0)" d="M1364.4,2165.0 1365.7,2168.1 1366.9,2171.4"/><path stroke="#ff7400" transform="translate(-0.23,0)" d="M1364.4,2165.0 1365.7,2168.1 1366.9,2171.4"/><path stroke="#ff7400" transform="translate(0.23,0)" d="M1364.4,2165.0 1365.7,2168.1 1366.9,2171.4"/><path stroke="#ff7400" transform="translate(0.73,0)" d="M1364.4,2165.0 1365.7,2168.1 1366.9,2171.4"/><path stroke="#ff7400" transform="translate(-1.1,0)" d="M1366.9,2171.4 1368.0,2174.7 1369.1,2178.0 1370.2,2181.4 1371.4,2184.7"/><path stroke="#ff7400" transform="translate(-0.35,0)" d="M1366.9,2171.4 1368.0,2174.7 1369.1,2178.0 1370.2,2181.4 1371.4,2184.7"/><path stroke="#ff7400" transform="translate(0.35,0)" d="M1366.9,2171.4 1368.0,2174.7 1369.1,2178.0 1370.2,2181.4 1371.4,2184.7"/><path stroke="#ff7400" transform="translate(1.1,0)" d="M1366.9,2171.4 1368.0,2174.7 1369.1,2178.0 1370.2,2181.4 1371.4,2184.7"/><path stroke="#ff7400" transform="translate(-0.73,0)" d="M1371.4,2184.7 1372.7,2188.0"/><path stroke="#ff7400" transform="translate(-0.23,0)" d="M1371.4,2184.7 1372.7,2188.0"/><path stroke="#ff7400" transform="translate(0.23,0)" d="M1371.4,2184.7 1372.7,2188.0"/><path stroke="#ff7400" transform="translate(0.73,0)" d="M1371.4,2184.7 1372.7,2188.0"/><path stroke="#ff7400" transform="translate(-0.37,0)" d="M1372.7,2188.0 1374.2,2191.1"/><path stroke="#ff7400" transform="translate(-0.12,0)" d="M1372.7,2188.0 1374.2,2191.1"/><path stroke="#ff7400" transform="translate(0.12,0)" d="M1372.7,2188.0 1374.2,2191.1"/><path stroke="#ff7400" transform="translate(0.37,0)" d="M1372.7,2188.0 1374.2,2191.1"/><path stroke="#ff7806" d="M1374.2,2191.1 1375.9,2194.1"/><path stroke="#ff7d0b" d="M1375.9,2194.1 1377.7,2197.0 1379.6,2199.7 1381.6,2202.5"/><path stroke="#ff8211" d="M1381.6,2202.5 1383.8,2205.3 1386.0,2208.1 1388.2,2211.0 1390.6,2214.0 1393.1,2217.3 1395.8,2220.7 1398.6,2224.3 1401.4,2227.9 1404.3,2231.5 1407.1,2234.9 1409.8,2238.1 1412.4,2241.0 1414.7,2243.5"/><path stroke="#ff8617" d="M1414.7,2243.5 1416.9,2245.7 1418.9,2247.7 1420.9,2249.5 1422.9,2251.3 1425.0,2253.1 1427.3,2255.0 1429.8,2257.1 1432.5,2259.4 1435.3,2262.0 1438.2,2264.6 1441.3,2267.2 1444.4,2269.8"/><path stroke="#ff8a1c" d="M1444.4,2269.8 1447.7,2272.4 1451.1,2274.8 1454.6,2277.0 1458.3,2279.0"/><path stroke="#ff8f22" d="M1458.3,2279.0 1462.3,2280.9 1466.5,2282.7 1470.7,2284.4 1475.0,2286.0 1479.2,2287.6 1483.2,2289.2 1486.9,2290.7 1490.3,2292.2 1493.4,2293.7 1496.2,2295.2 1499.0,2296.6 1501.9,2298.0 1504.9,2299.3 1508.1,2300.6 1511.8,2301.8 1515.9,2302.9 1520.5,2303.9 1525.4,2304.9 1530.4,2305.8 1535.4,2306.7 1540.3,2307.5 1544.9,2308.4 1549.0,2309.3 1552.4,2310.3 1555.2,2311.3 1557.6,2312.4 1559.9,2313.5 1562.4,2314.5 1565.3,2315.4 1569.1,2316.1 1573.9,2316.7 1580.2,2317.1 1588.0,2317.3 1596.6,2317.3 1605.7,2317.3 1614.7,2317.2 1623.1,2317.0 1630.4,2316.8 1636.0,2316.7 1639.8,2316.5 1642.1,2316.3 1643.4,2316.0 1644.1,2315.8 1644.5,2315.5 1645.1,2315.2 1646.2,2315.0 1648.4,2314.8 1651.6,2314.7 1655.5,2314.6 1659.9,2314.5 1664.6,2314.4 1669.2,2314.4 1673.6,2314.5 1677.5,2314.6 1680.7,2314.8 1683.0,2315.1 1684.5,2315.6 1685.5,2316.1 1686.3,2316.7 1687.1,2317.3 1688.4,2317.9 1690.3,2318.3 1693.1,2318.7 1697.2,2318.9 1702.5,2319.1 1708.6,2319.2 1715.0,2319.2 1721.3,2319.2 1727.0,2319.2 1731.8,2319.2 1735.3,2319.2"/></g>
<g fill="none" stroke-width="10.5" stroke-linejoin="round" stroke-linecap="round" filter="url(#sb)"><path stroke="#02a8f4" d="M235.5,2755.4 255.9,2755.4 284.7,2755.5 319.1,2755.6 356.5,2755.6 394.0,2755.7 428.9,2755.7 458.5,2755.7 480.0,2755.6 493.4,2755.5 501.2,2755.5 504.7,2755.4 505.1,2755.3 503.7,2755.2 501.6,2754.8 500.1,2754.3"/><path stroke="#02a7f4" d="M500.1,2754.3 500.5,2753.5"/><path stroke="#01a6f3" d="M500.5,2753.5 502.0,2752.5"/><path stroke="#01a4f3" d="M502.0,2752.5 503.2,2751.3"/><path stroke="#00a2f2" transform="translate(-0.58,0)" d="M503.2,2751.3 504.1,2749.9 504.8,2748.4"/><path stroke="#00a2f2" transform="translate(-0.2,0)" d="M503.2,2751.3 504.1,2749.9 504.8,2748.4"/><path stroke="#00a2f2" transform="translate(0.2,0)" d="M503.2,2751.3 504.1,2749.9 504.8,2748.4"/><path stroke="#00a2f2" transform="translate(0.58,0)" d="M503.2,2751.3 504.1,2749.9 504.8,2748.4"/><path stroke="#00a2f2" transform="translate(-1.17,0)" d="M504.8,2748.4 505.4,2746.7 506.0,2744.9 506.6,2743.0 507.4,2741.0 508.3,2738.8 509.2,2736.5 510.1,2734.0"/><path stroke="#00a2f2" transform="translate(-0.4,0)" d="M504.8,2748.4 505.4,2746.7 506.0,2744.9 506.6,2743.0 507.4,2741.0 508.3,2738.8 509.2,2736.5 510.1,2734.0"/><path stroke="#00a2f2" transform="translate(0.4,0)" d="M504.8,2748.4 505.4,2746.7 506.0,2744.9 506.6,2743.0 507.4,2741.0 508.3,2738.8 509.2,2736.5 510.1,2734.0"/><path stroke="#00a2f2" transform="translate(1.17,0)" d="M504.8,2748.4 505.4,2746.7 506.0,2744.9 506.6,2743.0 507.4,2741.0 508.3,2738.8 509.2,2736.5 510.1,2734.0"/><path stroke="#00a2f2" transform="translate(-1.75,0)" d="M510.1,2734.0 511.1,2731.3 512.0,2728.7 512.9,2726.0 513.7,2723.5"/><path stroke="#00a2f2" transform="translate(-0.6,0)" d="M510.1,2734.0 511.1,2731.3 512.0,2728.7 512.9,2726.0 513.7,2723.5"/><path stroke="#00a2f2" transform="translate(0.6,0)" d="M510.1,2734.0 511.1,2731.3 512.0,2728.7 512.9,2726.0 513.7,2723.5"/><path stroke="#00a2f2" transform="translate(1.75,0)" d="M510.1,2734.0 511.1,2731.3 512.0,2728.7 512.9,2726.0 513.7,2723.5"/><path stroke="#00a2f2" transform="translate(-2.33,0)" d="M513.7,2723.5 514.4,2721.0 515.1,2718.6"/><path stroke="#00a2f2" transform="translate(-0.8,0)" d="M513.7,2723.5 514.4,2721.0 515.1,2718.6"/><path stroke="#00a2f2" transform="translate(0.8,0)" d="M513.7,2723.5 514.4,2721.0 515.1,2718.6"/><path stroke="#00a2f2" transform="translate(2.33,0)" d="M513.7,2723.5 514.4,2721.0 515.1,2718.6"/><path stroke="#00a2f2" transform="translate(-2.92,0)" d="M515.1,2718.6 515.7,2716.3 516.3,2714.0"/><path stroke="#00a2f2" transform="translate(-1.0,0)" d="M515.1,2718.6 515.7,2716.3 516.3,2714.0"/><path stroke="#00a2f2" transform="translate(1.0,0)" d="M515.1,2718.6 515.7,2716.3 516.3,2714.0"/><path stroke="#00a2f2" transform="translate(2.92,0)" d="M515.1,2718.6 515.7,2716.3 516.3,2714.0"/><path stroke="#00a2f2" transform="translate(-3.5,0)" d="M516.3,2714.0 516.8,2711.7 517.3,2709.4 517.7,2707.2 518.1,2705.1 518.5,2703.0 518.8,2701.0 519.1,2699.2 519.3,2697.4 519.5,2695.7 519.6,2693.9 519.8,2692.1 520.0,2690.1 520.2,2688.0 520.5,2685.6 520.7,2683.0 521.0,2680.3 521.3,2677.5 521.6,2674.7 521.9,2672.0 522.2,2669.4 522.5,2667.0 522.8,2664.9 523.1,2662.9 523.4,2661.1 523.7,2659.3 524.1,2657.6 524.4,2655.8 524.8,2654.0 525.2,2652.0 525.7,2649.9 526.2,2647.6 526.7,2645.2"/><path stroke="#00a2f2" transform="translate(-1.2,0)" d="M516.3,2714.0 516.8,2711.7 517.3,2709.4 517.7,2707.2 518.1,2705.1 518.5,2703.0 518.8,2701.0 519.1,2699.2 519.3,2697.4 519.5,2695.7 519.6,2693.9 519.8,2692.1 520.0,2690.1 520.2,2688.0 520.5,2685.6 520.7,2683.0 521.0,2680.3 521.3,2677.5 521.6,2674.7 521.9,2672.0 522.2,2669.4 522.5,2667.0 522.8,2664.9 523.1,2662.9 523.4,2661.1 523.7,2659.3 524.1,2657.6 524.4,2655.8 524.8,2654.0 525.2,2652.0 525.7,2649.9 526.2,2647.6 526.7,2645.2"/><path stroke="#00a2f2" transform="translate(1.2,0)" d="M516.3,2714.0 516.8,2711.7 517.3,2709.4 517.7,2707.2 518.1,2705.1 518.5,2703.0 518.8,2701.0 519.1,2699.2 519.3,2697.4 519.5,2695.7 519.6,2693.9 519.8,2692.1 520.0,2690.1 520.2,2688.0 520.5,2685.6 520.7,2683.0 521.0,2680.3 521.3,2677.5 521.6,2674.7 521.9,2672.0 522.2,2669.4 522.5,2667.0 522.8,2664.9 523.1,2662.9 523.4,2661.1 523.7,2659.3 524.1,2657.6 524.4,2655.8 524.8,2654.0 525.2,2652.0 525.7,2649.9 526.2,2647.6 526.7,2645.2"/><path stroke="#00a2f2" transform="translate(3.5,0)" d="M516.3,2714.0 516.8,2711.7 517.3,2709.4 517.7,2707.2 518.1,2705.1 518.5,2703.0 518.8,2701.0 519.1,2699.2 519.3,2697.4 519.5,2695.7 519.6,2693.9 519.8,2692.1 520.0,2690.1 520.2,2688.0 520.5,2685.6 520.7,2683.0 521.0,2680.3 521.3,2677.5 521.6,2674.7 521.9,2672.0 522.2,2669.4 522.5,2667.0 522.8,2664.9 523.1,2662.9 523.4,2661.1 523.7,2659.3 524.1,2657.6 524.4,2655.8 524.8,2654.0 525.2,2652.0 525.7,2649.9 526.2,2647.6 526.7,2645.2"/><path stroke="#00a2f2" transform="translate(-2.92,0)" d="M526.7,2645.2 527.3,2642.9 527.8,2640.5 528.4,2638.2 529.0,2636.0"/><path stroke="#00a2f2" transform="translate(-1.0,0)" d="M526.7,2645.2 527.3,2642.9 527.8,2640.5 528.4,2638.2 529.0,2636.0"/><path stroke="#00a2f2" transform="translate(1.0,0)" d="M526.7,2645.2 527.3,2642.9 527.8,2640.5 528.4,2638.2 529.0,2636.0"/><path stroke="#00a2f2" transform="translate(2.92,0)" d="M526.7,2645.2 527.3,2642.9 527.8,2640.5 528.4,2638.2 529.0,2636.0"/><path stroke="#00a2f2" transform="translate(-2.33,0)" d="M529.0,2636.0 529.5,2634.0 530.0,2632.2"/><path stroke="#00a2f2" transform="translate(-0.8,0)" d="M529.0,2636.0 529.5,2634.0 530.0,2632.2"/><path stroke="#00a2f2" transform="translate(0.8,0)" d="M529.0,2636.0 529.5,2634.0 530.0,2632.2"/><path stroke="#00a2f2" transform="translate(2.33,0)" d="M529.0,2636.0 529.5,2634.0 530.0,2632.2"/><path stroke="#00a2f2" transform="translate(-1.75,0)" d="M530.0,2632.2 530.6,2630.5 531.1,2628.9 531.6,2627.4 532.2,2625.9 532.7,2624.3"/><path stroke="#00a2f2" transform="translate(-0.6,0)" d="M530.0,2632.2 530.6,2630.5 531.1,2628.9 531.6,2627.4 532.2,2625.9 532.7,2624.3"/><path stroke="#00a2f2" transform="translate(0.6,0)" d="M530.0,2632.2 530.6,2630.5 531.1,2628.9 531.6,2627.4 532.2,2625.9 532.7,2624.3"/><path stroke="#00a2f2" transform="translate(1.75,0)" d="M530.0,2632.2 530.6,2630.5 531.1,2628.9 531.6,2627.4 532.2,2625.9 532.7,2624.3"/><path stroke="#00a2f2" transform="translate(-2.33,0)" d="M532.7,2624.3 533.1,2622.7"/><path stroke="#00a2f2" transform="translate(-0.8,0)" d="M532.7,2624.3 533.1,2622.7"/><path stroke="#00a2f2" transform="translate(0.8,0)" d="M532.7,2624.3 533.1,2622.7"/><path stroke="#00a2f2" transform="translate(2.33,0)" d="M532.7,2624.3 533.1,2622.7"/><path stroke="#00a2f2" transform="translate(-2.92,0)" d="M533.1,2622.7 533.6,2621.0"/><path stroke="#00a2f2" transform="translate(-1.0,0)" d="M533.1,2622.7 533.6,2621.0"/><path stroke="#00a2f2" transform="translate(1.0,0)" d="M533.1,2622.7 533.6,2621.0"/><path stroke="#00a2f2" transform="translate(2.92,0)" d="M533.1,2622.7 533.6,2621.0"/><path stroke="#00a2f2" transform="translate(-3.5,0)" d="M533.6,2621.0 534.0,2619.2 534.4,2617.2 534.8,2615.3 535.1,2613.2 535.5,2611.2 535.8,2609.1 536.1,2607.1 536.5,2605.0 536.9,2602.9 537.3,2600.8 537.6,2598.6 538.0,2596.4 538.4,2594.2 538.8,2592.1 539.1,2590.0 539.5,2588.0 539.8,2586.2 540.1,2584.6 540.4,2583.1 540.7,2581.6 541.0,2580.1 541.3,2578.4 541.6,2576.4 542.0,2574.0 542.4,2571.2 542.9,2568.1 543.3,2564.8 543.9,2561.2 544.4,2557.6 544.9,2553.9 545.6,2550.3 546.2,2546.9 546.9,2543.6"/><path stroke="#00a2f2" transform="translate(-1.2,0)" d="M533.6,2621.0 534.0,2619.2 534.4,2617.2 534.8,2615.3 535.1,2613.2 535.5,2611.2 535.8,2609.1 536.1,2607.1 536.5,2605.0 536.9,2602.9 537.3,2600.8 537.6,2598.6 538.0,2596.4 538.4,2594.2 538.8,2592.1 539.1,2590.0 539.5,2588.0 539.8,2586.2 540.1,2584.6 540.4,2583.1 540.7,2581.6 541.0,2580.1 541.3,2578.4 541.6,2576.4 542.0,2574.0 542.4,2571.2 542.9,2568.1 543.3,2564.8 543.9,2561.2 544.4,2557.6 544.9,2553.9 545.6,2550.3 546.2,2546.9 546.9,2543.6"/><path stroke="#00a2f2" transform="translate(1.2,0)" d="M533.6,2621.0 534.0,2619.2 534.4,2617.2 534.8,2615.3 535.1,2613.2 535.5,2611.2 535.8,2609.1 536.1,2607.1 536.5,2605.0 536.9,2602.9 537.3,2600.8 537.6,2598.6 538.0,2596.4 538.4,2594.2 538.8,2592.1 539.1,2590.0 539.5,2588.0 539.8,2586.2 540.1,2584.6 540.4,2583.1 540.7,2581.6 541.0,2580.1 541.3,2578.4 541.6,2576.4 542.0,2574.0 542.4,2571.2 542.9,2568.1 543.3,2564.8 543.9,2561.2 544.4,2557.6 544.9,2553.9 545.6,2550.3 546.2,2546.9 546.9,2543.6"/><path stroke="#00a2f2" transform="translate(3.5,0)" d="M533.6,2621.0 534.0,2619.2 534.4,2617.2 534.8,2615.3 535.1,2613.2 535.5,2611.2 535.8,2609.1 536.1,2607.1 536.5,2605.0 536.9,2602.9 537.3,2600.8 537.6,2598.6 538.0,2596.4 538.4,2594.2 538.8,2592.1 539.1,2590.0 539.5,2588.0 539.8,2586.2 540.1,2584.6 540.4,2583.1 540.7,2581.6 541.0,2580.1 541.3,2578.4 541.6,2576.4 542.0,2574.0 542.4,2571.2 542.9,2568.1 543.3,2564.8 543.9,2561.2 544.4,2557.6 544.9,2553.9 545.6,2550.3 546.2,2546.9 546.9,2543.6"/><path stroke="#00a2f2" transform="translate(-2.92,0)" d="M546.9,2543.6 547.7,2540.3 548.6,2537.0 549.5,2533.7 550.3,2530.5 551.2,2527.2 552.0,2524.0"/><path stroke="#00a2f2" transform="translate(-1.0,0)" d="M546.9,2543.6 547.7,2540.3 548.6,2537.0 549.5,2533.7 550.3,2530.5 551.2,2527.2 552.0,2524.0"/><path stroke="#00a2f2" transform="translate(1.0,0)" d="M546.9,2543.6 547.7,2540.3 548.6,2537.0 549.5,2533.7 550.3,2530.5 551.2,2527.2 552.0,2524.0"/><path stroke="#00a2f2" transform="translate(2.92,0)" d="M546.9,2543.6 547.7,2540.3 548.6,2537.0 549.5,2533.7 550.3,2530.5 551.2,2527.2 552.0,2524.0"/><path stroke="#00a2f2" transform="translate(-3.5,0)" d="M552.0,2524.0 552.7,2520.7 553.3,2517.4 553.9,2514.1 554.4,2510.8 554.9,2507.5 555.3,2504.2 555.8,2500.9 556.2,2497.7 556.7,2494.6 557.2,2491.5 557.6,2488.5 558.1,2485.5 558.5,2482.6 559.0,2479.6 559.4,2476.7 560.0,2473.9 560.6,2471.0"/><path stroke="#00a2f2" transform="translate(-1.2,0)" d="M552.0,2524.0 552.7,2520.7 553.3,2517.4 553.9,2514.1 554.4,2510.8 554.9,2507.5 555.3,2504.2 555.8,2500.9 556.2,2497.7 556.7,2494.6 557.2,2491.5 557.6,2488.5 558.1,2485.5 558.5,2482.6 559.0,2479.6 559.4,2476.7 560.0,2473.9 560.6,2471.0"/><path stroke="#00a2f2" transform="translate(1.2,0)" d="M552.0,2524.0 552.7,2520.7 553.3,2517.4 553.9,2514.1 554.4,2510.8 554.9,2507.5 555.3,2504.2 555.8,2500.9 556.2,2497.7 556.7,2494.6 557.2,2491.5 557.6,2488.5 558.1,2485.5 558.5,2482.6 559.0,2479.6 559.4,2476.7 560.0,2473.9 560.6,2471.0"/><path stroke="#00a2f2" transform="translate(3.5,0)" d="M552.0,2524.0 552.7,2520.7 553.3,2517.4 553.9,2514.1 554.4,2510.8 554.9,2507.5 555.3,2504.2 555.8,2500.9 556.2,2497.7 556.7,2494.6 557.2,2491.5 557.6,2488.5 558.1,2485.5 558.5,2482.6 559.0,2479.6 559.4,2476.7 560.0,2473.9 560.6,2471.0"/><path stroke="#00a2f2" transform="translate(-2.92,0)" d="M560.6,2471.0 561.3,2468.1"/><path stroke="#00a2f2" transform="translate(-1.0,0)" d="M560.6,2471.0 561.3,2468.1"/><path stroke="#00a2f2" transform="translate(1.0,0)" d="M560.6,2471.0 561.3,2468.1"/><path stroke="#00a2f2" transform="translate(2.92,0)" d="M560.6,2471.0 561.3,2468.1"/><path stroke="#00a2f2" transform="translate(-2.33,0)" d="M561.3,2468.1 562.1,2465.3 562.9,2462.5"/><path stroke="#00a2f2" transform="translate(-0.8,0)" d="M561.3,2468.1 562.1,2465.3 562.9,2462.5"/><path stroke="#00a2f2" transform="translate(0.8,0)" d="M561.3,2468.1 562.1,2465.3 562.9,2462.5"/><path stroke="#00a2f2" transform="translate(2.33,0)" d="M561.3,2468.1 562.1,2465.3 562.9,2462.5"/><path stroke="#00a2f2" transform="translate(-1.75,0)" d="M562.9,2462.5 563.8,2459.7 564.6,2456.9 565.5,2454.1 566.3,2451.4"/><path stroke="#00a2f2" transform="translate(-0.6,0)" d="M562.9,2462.5 563.8,2459.7 564.6,2456.9 565.5,2454.1 566.3,2451.4"/><path stroke="#00a2f2" transform="translate(0.6,0)" d="M562.9,2462.5 563.8,2459.7 564.6,2456.9 565.5,2454.1 566.3,2451.4"/><path stroke="#00a2f2" transform="translate(1.75,0)" d="M562.9,2462.5 563.8,2459.7 564.6,2456.9 565.5,2454.1 566.3,2451.4"/><path stroke="#00a2f2" transform="translate(-2.33,0)" d="M566.3,2451.4 567.1,2448.8 567.8,2446.2"/><path stroke="#00a2f2" transform="translate(-0.8,0)" d="M566.3,2451.4 567.1,2448.8 567.8,2446.2"/><path stroke="#00a2f2" transform="translate(0.8,0)" d="M566.3,2451.4 567.1,2448.8 567.8,2446.2"/><path stroke="#00a2f2" transform="translate(2.33,0)" d="M566.3,2451.4 567.1,2448.8 567.8,2446.2"/><path stroke="#00a2f2" transform="translate(-2.92,0)" d="M567.8,2446.2 568.5,2443.6 569.1,2441.1 569.8,2438.6 570.4,2436.2"/><path stroke="#00a2f2" transform="translate(-1.0,0)" d="M567.8,2446.2 568.5,2443.6 569.1,2441.1 569.8,2438.6 570.4,2436.2"/><path stroke="#00a2f2" transform="translate(1.0,0)" d="M567.8,2446.2 568.5,2443.6 569.1,2441.1 569.8,2438.6 570.4,2436.2"/><path stroke="#00a2f2" transform="translate(2.92,0)" d="M567.8,2446.2 568.5,2443.6 569.1,2441.1 569.8,2438.6 570.4,2436.2"/><path stroke="#00a2f2" transform="translate(-2.33,0)" d="M570.4,2436.2 571.0,2433.8 571.7,2431.4"/><path stroke="#00a2f2" transform="translate(-0.8,0)" d="M570.4,2436.2 571.0,2433.8 571.7,2431.4"/><path stroke="#00a2f2" transform="translate(0.8,0)" d="M570.4,2436.2 571.0,2433.8 571.7,2431.4"/><path stroke="#00a2f2" transform="translate(2.33,0)" d="M570.4,2436.2 571.0,2433.8 571.7,2431.4"/><path stroke="#00a2f2" transform="translate(-1.75,0)" d="M571.7,2431.4 572.4,2429.2 573.1,2427.0 573.8,2424.8 574.5,2422.7 575.2,2420.6"/><path stroke="#00a2f2" transform="translate(-0.6,0)" d="M571.7,2431.4 572.4,2429.2 573.1,2427.0 573.8,2424.8 574.5,2422.7 575.2,2420.6"/><path stroke="#00a2f2" transform="translate(0.6,0)" d="M571.7,2431.4 572.4,2429.2 573.1,2427.0 573.8,2424.8 574.5,2422.7 575.2,2420.6"/><path stroke="#00a2f2" transform="translate(1.75,0)" d="M571.7,2431.4 572.4,2429.2 573.1,2427.0 573.8,2424.8 574.5,2422.7 575.2,2420.6"/><path stroke="#00a2f2" transform="translate(-1.17,0)" d="M575.2,2420.6 576.0,2418.6"/><path stroke="#00a2f2" transform="translate(-0.4,0)" d="M575.2,2420.6 576.0,2418.6"/><path stroke="#00a2f2" transform="translate(0.4,0)" d="M575.2,2420.6 576.0,2418.6"/><path stroke="#00a2f2" transform="translate(1.17,0)" d="M575.2,2420.6 576.0,2418.6"/><path stroke="#00a2f2" transform="translate(-0.58,0)" d="M576.0,2418.6 576.9,2416.8"/><path stroke="#00a2f2" transform="translate(-0.2,0)" d="M576.0,2418.6 576.9,2416.8"/><path stroke="#00a2f2" transform="translate(0.2,0)" d="M576.0,2418.6 576.9,2416.8"/><path stroke="#00a2f2" transform="translate(0.58,0)" d="M576.0,2418.6 576.9,2416.8"/><path stroke="#00a3f2" d="M576.9,2416.8 577.8,2415.1"/><path stroke="#01a4f3" d="M577.8,2415.1 578.9,2413.5"/><path stroke="#01a5f3" d="M578.9,2413.5 580.1,2412.0"/><path stroke="#01a6f3" d="M580.1,2412.0 581.5,2410.6 583.0,2409.3"/><path stroke="#02a7f4" d="M583.0,2409.3 584.6,2408.1 586.1,2407.1"/><path stroke="#02a8f4" d="M586.1,2407.1 587.7,2406.4 589.3,2405.9 590.7,2405.7 592.1,2405.8 593.5,2406.3 594.9,2407.0"/><path stroke="#02a7f4" d="M594.9,2407.0 596.2,2407.9"/><path stroke="#01a6f3" d="M596.2,2407.9 597.5,2409.0 598.8,2410.4"/><path stroke="#01a5f3" d="M598.8,2410.4 600.0,2411.9"/><path stroke="#01a4f3" d="M600.0,2411.9 601.1,2413.5"/><path stroke="#00a2f2" transform="translate(-0.58,0)" d="M601.1,2413.5 602.1,2415.4"/><path stroke="#00a2f2" transform="translate(-0.2,0)" d="M601.1,2413.5 602.1,2415.4"/><path stroke="#00a2f2" transform="translate(0.2,0)" d="M601.1,2413.5 602.1,2415.4"/><path stroke="#00a2f2" transform="translate(0.58,0)" d="M601.1,2413.5 602.1,2415.4"/><path stroke="#00a2f2" transform="translate(-1.17,0)" d="M602.1,2415.4 603.0,2417.5"/><path stroke="#00a2f2" transform="translate(-0.4,0)" d="M602.1,2415.4 603.0,2417.5"/><path stroke="#00a2f2" transform="translate(0.4,0)" d="M602.1,2415.4 603.0,2417.5"/><path stroke="#00a2f2" transform="translate(1.17,0)" d="M602.1,2415.4 603.0,2417.5"/><path stroke="#00a2f2" transform="translate(-1.75,0)" d="M603.0,2417.5 603.8,2419.9 604.6,2422.4"/><path stroke="#00a2f2" transform="translate(-0.6,0)" d="M603.0,2417.5 603.8,2419.9 604.6,2422.4"/><path stroke="#00a2f2" transform="translate(0.6,0)" d="M603.0,2417.5 603.8,2419.9 604.6,2422.4"/><path stroke="#00a2f2" transform="translate(1.75,0)" d="M603.0,2417.5 603.8,2419.9 604.6,2422.4"/><path stroke="#00a2f2" transform="translate(-2.33,0)" d="M604.6,2422.4 605.3,2425.0 606.1,2427.7 606.8,2430.4 607.6,2433.1"/><path stroke="#00a2f2" transform="translate(-0.8,0)" d="M604.6,2422.4 605.3,2425.0 606.1,2427.7 606.8,2430.4 607.6,2433.1"/><path stroke="#00a2f2" transform="translate(0.8,0)" d="M604.6,2422.4 605.3,2425.0 606.1,2427.7 606.8,2430.4 607.6,2433.1"/><path stroke="#00a2f2" transform="translate(2.33,0)" d="M604.6,2422.4 605.3,2425.0 606.1,2427.7 606.8,2430.4 607.6,2433.1"/><path stroke="#00a2f2" transform="translate(-1.75,0)" d="M607.6,2433.1 608.4,2435.8 609.3,2438.5 610.1,2441.2 611.0,2444.0"/><path stroke="#00a2f2" transform="translate(-0.6,0)" d="M607.6,2433.1 608.4,2435.8 609.3,2438.5 610.1,2441.2 611.0,2444.0"/><path stroke="#00a2f2" transform="translate(0.6,0)" d="M607.6,2433.1 608.4,2435.8 609.3,2438.5 610.1,2441.2 611.0,2444.0"/><path stroke="#00a2f2" transform="translate(1.75,0)" d="M607.6,2433.1 608.4,2435.8 609.3,2438.5 610.1,2441.2 611.0,2444.0"/><path stroke="#00a2f2" transform="translate(-2.33,0)" d="M611.0,2444.0 611.8,2446.8 612.6,2449.7 613.4,2452.5 614.2,2455.4"/><path stroke="#00a2f2" transform="translate(-0.8,0)" d="M611.0,2444.0 611.8,2446.8 612.6,2449.7 613.4,2452.5 614.2,2455.4"/><path stroke="#00a2f2" transform="translate(0.8,0)" d="M611.0,2444.0 611.8,2446.8 612.6,2449.7 613.4,2452.5 614.2,2455.4"/><path stroke="#00a2f2" transform="translate(2.33,0)" d="M611.0,2444.0 611.8,2446.8 612.6,2449.7 613.4,2452.5 614.2,2455.4"/><path stroke="#00a2f2" transform="translate(-2.92,0)" d="M614.2,2455.4 614.9,2458.3 615.6,2461.2"/><path stroke="#00a2f2" transform="translate(-1.0,0)" d="M614.2,2455.4 614.9,2458.3 615.6,2461.2"/><path stroke="#00a2f2" transform="translate(1.0,0)" d="M614.2,2455.4 614.9,2458.3 615.6,2461.2"/><path stroke="#00a2f2" transform="translate(2.92,0)" d="M614.2,2455.4 614.9,2458.3 615.6,2461.2"/><path stroke="#00a2f2" transform="translate(-3.5,0)" d="M615.6,2461.2 616.3,2464.1 616.9,2467.0 617.5,2469.9 618.1,2472.9 618.8,2475.9 619.4,2478.9 620.0,2481.9 620.7,2485.0 621.3,2488.2 621.9,2491.3 622.5,2494.4 623.2,2497.6 623.9,2500.6"/><path stroke="#00a2f2" transform="translate(-1.2,0)" d="M615.6,2461.2 616.3,2464.1 616.9,2467.0 617.5,2469.9 618.1,2472.9 618.8,2475.9 619.4,2478.9 620.0,2481.9 620.7,2485.0 621.3,2488.2 621.9,2491.3 622.5,2494.4 623.2,2497.6 623.9,2500.6"/><path stroke="#00a2f2" transform="translate(1.2,0)" d="M615.6,2461.2 616.3,2464.1 616.9,2467.0 617.5,2469.9 618.1,2472.9 618.8,2475.9 619.4,2478.9 620.0,2481.9 620.7,2485.0 621.3,2488.2 621.9,2491.3 622.5,2494.4 623.2,2497.6 623.9,2500.6"/><path stroke="#00a2f2" transform="translate(3.5,0)" d="M615.6,2461.2 616.3,2464.1 616.9,2467.0 617.5,2469.9 618.1,2472.9 618.8,2475.9 619.4,2478.9 620.0,2481.9 620.7,2485.0 621.3,2488.2 621.9,2491.3 622.5,2494.4 623.2,2497.6 623.9,2500.6"/><path stroke="#00a2f2" transform="translate(-2.92,0)" d="M623.9,2500.6 624.6,2503.7 625.3,2506.7 626.1,2509.8 626.9,2512.8 627.7,2515.8"/><path stroke="#00a2f2" transform="translate(-1.0,0)" d="M623.9,2500.6 624.6,2503.7 625.3,2506.7 626.1,2509.8 626.9,2512.8 627.7,2515.8"/><path stroke="#00a2f2" transform="translate(1.0,0)" d="M623.9,2500.6 624.6,2503.7 625.3,2506.7 626.1,2509.8 626.9,2512.8 627.7,2515.8"/><path stroke="#00a2f2" transform="translate(2.92,0)" d="M623.9,2500.6 624.6,2503.7 625.3,2506.7 626.1,2509.8 626.9,2512.8 627.7,2515.8"/><path stroke="#00a2f2" transform="translate(-2.33,0)" d="M627.7,2515.8 628.5,2518.8 629.3,2521.7"/><path stroke="#00a2f2" transform="translate(-0.8,0)" d="M627.7,2515.8 628.5,2518.8 629.3,2521.7"/><path stroke="#00a2f2" transform="translate(0.8,0)" d="M627.7,2515.8 628.5,2518.8 629.3,2521.7"/><path stroke="#00a2f2" transform="translate(2.33,0)" d="M627.7,2515.8 628.5,2518.8 629.3,2521.7"/><path stroke="#00a2f2" transform="translate(-1.75,0)" d="M629.3,2521.7 630.2,2524.5 631.2,2527.3"/><path stroke="#00a2f2" transform="translate(-0.6,0)" d="M629.3,2521.7 630.2,2524.5 631.2,2527.3"/><path stroke="#00a2f2" transform="translate(0.6,0)" d="M629.3,2521.7 630.2,2524.5 631.2,2527.3"/><path stroke="#00a2f2" transform="translate(1.75,0)" d="M629.3,2521.7 630.2,2524.5 631.2,2527.3"/><path stroke="#00a2f2" transform="translate(-1.17,0)" d="M631.2,2527.3 632.2,2529.9 633.3,2532.5"/><path stroke="#00a2f2" transform="translate(-0.4,0)" d="M631.2,2527.3 632.2,2529.9 633.3,2532.5"/><path stroke="#00a2f2" transform="translate(0.4,0)" d="M631.2,2527.3 632.2,2529.9 633.3,2532.5"/><path stroke="#00a2f2" transform="translate(1.17,0)" d="M631.2,2527.3 632.2,2529.9 633.3,2532.5"/><path stroke="#00a2f2" transform="translate(-0.58,0)" d="M633.3,2532.5 634.4,2534.9 635.6,2537.4 636.8,2539.7 638.0,2542.1 639.1,2544.5 640.3,2546.9 641.4,2549.4 642.6,2551.9 643.7,2554.4 644.9,2556.9 646.1,2559.3 647.2,2561.8 648.4,2564.2 649.5,2566.5 650.7,2568.8 651.9,2571.1"/><path stroke="#00a2f2" transform="translate(-0.2,0)" d="M633.3,2532.5 634.4,2534.9 635.6,2537.4 636.8,2539.7 638.0,2542.1 639.1,2544.5 640.3,2546.9 641.4,2549.4 642.6,2551.9 643.7,2554.4 644.9,2556.9 646.1,2559.3 647.2,2561.8 648.4,2564.2 649.5,2566.5 650.7,2568.8 651.9,2571.1"/><path stroke="#00a2f2" transform="translate(0.2,0)" d="M633.3,2532.5 634.4,2534.9 635.6,2537.4 636.8,2539.7 638.0,2542.1 639.1,2544.5 640.3,2546.9 641.4,2549.4 642.6,2551.9 643.7,2554.4 644.9,2556.9 646.1,2559.3 647.2,2561.8 648.4,2564.2 649.5,2566.5 650.7,2568.8 651.9,2571.1"/><path stroke="#00a2f2" transform="translate(0.58,0)" d="M633.3,2532.5 634.4,2534.9 635.6,2537.4 636.8,2539.7 638.0,2542.1 639.1,2544.5 640.3,2546.9 641.4,2549.4 642.6,2551.9 643.7,2554.4 644.9,2556.9 646.1,2559.3 647.2,2561.8 648.4,2564.2 649.5,2566.5 650.7,2568.8 651.9,2571.1"/><path stroke="#00a3f2" d="M651.9,2571.1 653.1,2573.3 654.4,2575.5 655.5,2577.7 656.7,2579.7"/><path stroke="#00a2f2" transform="translate(-0.58,0)" d="M656.7,2579.7 657.7,2581.7 658.6,2583.5 659.3,2585.0"/><path stroke="#00a2f2" transform="translate(-0.2,0)" d="M656.7,2579.7 657.7,2581.7 658.6,2583.5 659.3,2585.0"/><path stroke="#00a2f2" transform="translate(0.2,0)" d="M656.7,2579.7 657.7,2581.7 658.6,2583.5 659.3,2585.0"/><path stroke="#00a2f2" transform="translate(0.58,0)" d="M656.7,2579.7 657.7,2581.7 658.6,2583.5 659.3,2585.0"/><path stroke="#00a2f2" transform="translate(-1.75,0)" d="M659.3,2585.0 659.6,2586.1 659.9,2587.0 660.1,2587.9 660.3,2588.9"/><path stroke="#00a2f2" transform="translate(-0.6,0)" d="M659.3,2585.0 659.6,2586.1 659.9,2587.0 660.1,2587.9 660.3,2588.9"/><path stroke="#00a2f2" transform="translate(0.6,0)" d="M659.3,2585.0 659.6,2586.1 659.9,2587.0 660.1,2587.9 660.3,2588.9"/><path stroke="#00a2f2" transform="translate(1.75,0)" d="M659.3,2585.0 659.6,2586.1 659.9,2587.0 660.1,2587.9 660.3,2588.9"/><path stroke="#00a2f2" transform="translate(-1.17,0)" d="M660.3,2588.9 660.8,2590.2"/><path stroke="#00a2f2" transform="translate(-0.4,0)" d="M660.3,2588.9 660.8,2590.2"/><path stroke="#00a2f2" transform="translate(0.4,0)" d="M660.3,2588.9 660.8,2590.2"/><path stroke="#00a2f2" transform="translate(1.17,0)" d="M660.3,2588.9 660.8,2590.2"/><path stroke="#00a2f2" transform="translate(-0.58,0)" d="M660.8,2590.2 661.7,2592.0"/><path stroke="#00a2f2" transform="translate(-0.2,0)" d="M660.8,2590.2 661.7,2592.0"/><path stroke="#00a2f2" transform="translate(0.2,0)" d="M660.8,2590.2 661.7,2592.0"/><path stroke="#00a2f2" transform="translate(0.58,0)" d="M660.8,2590.2 661.7,2592.0"/><path stroke="#00a3f2" transform="translate(-0.58,0)" d="M661.7,2592.0 663.0,2594.4"/><path stroke="#00a3f2" transform="translate(-0.2,0)" d="M661.7,2592.0 663.0,2594.4"/><path stroke="#00a3f2" transform="translate(0.2,0)" d="M661.7,2592.0 663.0,2594.4"/><path stroke="#00a3f2" transform="translate(0.58,0)" d="M661.7,2592.0 663.0,2594.4"/><path stroke="#00a3f2" d="M663.0,2594.4 664.8,2597.6 667.0,2601.5 669.5,2605.9 672.2,2610.6 675.1,2615.4"/><path stroke="#01a4f3" d="M675.1,2615.4 678.1,2620.1 681.0,2624.5 683.9,2628.4"/><path stroke="#01a5f3" d="M683.9,2628.4 686.7,2631.9 689.5,2635.2 692.3,2638.4"/><path stroke="#01a6f3" d="M692.3,2638.4 695.2,2641.4 698.2,2644.2 701.2,2646.9 704.3,2649.5"/><path stroke="#02a7f4" d="M704.3,2649.5 707.5,2651.9 710.8,2654.2 714.3,2656.3 717.8,2658.3"/><path stroke="#02a8f4" d="M717.8,2658.3 721.4,2660.2 725.0,2661.9 728.7,2663.5 732.4,2664.9 736.2,2666.3 740.0,2667.6 744.0,2668.7 748.0,2669.8 752.1,2670.7 756.1,2671.5 760.1,2672.1 763.9,2672.5 767.6,2672.8 771.1,2672.8 774.5,2672.6 777.8,2672.2 781.0,2671.7 784.1,2671.0 787.3,2670.3 790.5,2669.6 793.7,2668.9 797.0,2668.2 800.2,2667.5 803.5,2666.8 806.8,2666.0 810.1,2665.1 813.4,2664.3 816.6,2663.4 819.9,2662.4 823.2,2661.4 826.4,2660.2 829.7,2659.0 833.0,2657.8 836.2,2656.6 839.5,2655.4 842.7,2654.2 846.0,2653.2 849.3,2652.2 852.7,2651.2 856.1,2650.3 859.4,2649.4 862.8,2648.6 866.0,2647.8 869.2,2647.2 872.2,2646.7 874.9,2646.4 877.2,2646.2 879.3,2646.1 881.4,2646.1 883.7,2646.2 886.2,2646.3 889.1,2646.4 892.7,2646.4 897.0,2646.3 902.0,2646.0 907.5,2645.7 913.2,2645.4 919.0,2645.3 924.8,2645.3 930.2,2645.7 935.2,2646.4 939.7,2647.6 944.0,2649.1 948.1,2650.9 952.1,2653.0"/><path stroke="#02a7f4" d="M952.1,2653.0 956.0,2655.2 959.9,2657.4 963.8,2659.7 967.8,2661.8 971.9,2664.0 976.0,2666.2 980.2,2668.6 984.3,2671.0 988.5,2673.3 992.6,2675.6"/><path stroke="#02a8f4" d="M992.6,2675.6 996.6,2677.8 1000.5,2679.7 1004.3,2681.5 1008.0,2683.2 1011.6,2684.8 1015.2,2686.4 1018.8,2687.8 1022.4,2689.1 1026.1,2690.2 1029.9,2691.2 1033.8,2692.1 1037.8,2692.8 1041.9,2693.5 1046.0,2694.0 1050.2,2694.4 1054.3,2694.6 1058.5,2694.6 1062.6,2694.4 1066.7,2694.0 1070.8,2693.4 1074.9,2692.6 1079.0,2691.7 1083.0,2690.6 1087.1,2689.3 1091.2,2687.9 1095.3,2686.3 1099.4,2684.5 1103.5,2682.5"/><path stroke="#02a7f4" d="M1103.5,2682.5 1107.6,2680.2 1111.7,2677.8 1115.7,2675.4 1119.8,2672.9 1123.9,2670.5 1128.0,2668.3"/><path stroke="#02a8f4" d="M1128.0,2668.3 1132.1,2666.2 1136.1,2664.1 1140.1,2662.1 1144.2,2660.1 1148.2,2658.2 1152.3,2656.2 1156.5,2654.1 1160.7,2652.0 1165.2,2649.8 1169.9,2647.6 1174.8,2645.3 1179.7,2643.0 1184.4,2640.7 1188.9,2638.4"/><path stroke="#02a7f4" d="M1188.9,2638.4 1193.0,2636.2 1196.6,2634.0 1199.6,2631.9 1202.1,2629.9"/><path stroke="#01a6f3" d="M1202.1,2629.9 1204.3,2628.0 1206.2,2626.1"/><path stroke="#01a5f3" d="M1206.2,2626.1 1207.9,2624.1 1209.5,2622.1 1211.1,2619.9"/><path stroke="#01a4f3" d="M1211.1,2619.9 1212.9,2617.6 1214.7,2615.1 1216.4,2612.4"/><path stroke="#00a3f2" d="M1216.4,2612.4 1218.0,2609.7 1219.7,2606.8"/><path stroke="#00a3f2" transform="translate(-0.58,0)" d="M1219.7,2606.8 1221.2,2603.9"/><path stroke="#00a3f2" transform="translate(-0.2,0)" d="M1219.7,2606.8 1221.2,2603.9"/><path stroke="#00a3f2" transform="translate(0.2,0)" d="M1219.7,2606.8 1221.2,2603.9"/><path stroke="#00a3f2" transform="translate(0.58,0)" d="M1219.7,2606.8 1221.2,2603.9"/><path stroke="#00a2f2" transform="translate(-0.58,0)" d="M1221.2,2603.9 1222.8,2600.9 1224.4,2597.9 1226.0,2594.8 1227.6,2591.7 1229.3,2588.4 1230.9,2585.1 1232.6,2581.7 1234.2,2578.3 1235.8,2575.0 1237.5,2571.7 1239.1,2568.6"/><path stroke="#00a2f2" transform="translate(-0.2,0)" d="M1221.2,2603.9 1222.8,2600.9 1224.4,2597.9 1226.0,2594.8 1227.6,2591.7 1229.3,2588.4 1230.9,2585.1 1232.6,2581.7 1234.2,2578.3 1235.8,2575.0 1237.5,2571.7 1239.1,2568.6"/><path stroke="#00a2f2" transform="translate(0.2,0)" d="M1221.2,2603.9 1222.8,2600.9 1224.4,2597.9 1226.0,2594.8 1227.6,2591.7 1229.3,2588.4 1230.9,2585.1 1232.6,2581.7 1234.2,2578.3 1235.8,2575.0 1237.5,2571.7 1239.1,2568.6"/><path stroke="#00a2f2" transform="translate(0.58,0)" d="M1221.2,2603.9 1222.8,2600.9 1224.4,2597.9 1226.0,2594.8 1227.6,2591.7 1229.3,2588.4 1230.9,2585.1 1232.6,2581.7 1234.2,2578.3 1235.8,2575.0 1237.5,2571.7 1239.1,2568.6"/><path stroke="#00a3f2" transform="translate(-0.58,0)" d="M1239.1,2568.6 1240.7,2565.6"/><path stroke="#00a3f2" transform="translate(-0.2,0)" d="M1239.1,2568.6 1240.7,2565.6"/><path stroke="#00a3f2" transform="translate(0.2,0)" d="M1239.1,2568.6 1240.7,2565.6"/><path stroke="#00a3f2" transform="translate(0.58,0)" d="M1239.1,2568.6 1240.7,2565.6"/><path stroke="#00a3f2" d="M1240.7,2565.6 1242.4,2562.6 1244.0,2559.7 1245.6,2556.9 1247.2,2554.1 1248.8,2551.3 1250.5,2548.6 1252.1,2545.8 1253.7,2543.0 1255.3,2540.2 1256.9,2537.4 1258.4,2534.6 1260.0,2531.9"/><path stroke="#01a4f3" d="M1260.0,2531.9 1261.7,2529.2 1263.4,2526.7"/><path stroke="#01a5f3" d="M1263.4,2526.7 1265.2,2524.4 1267.1,2522.2"/><path stroke="#01a6f3" d="M1267.1,2522.2 1269.0,2520.2 1271.0,2518.3 1273.0,2516.5 1275.1,2514.8"/><path stroke="#02a7f4" d="M1275.1,2514.8 1277.3,2513.1 1279.5,2511.4 1281.8,2509.7 1284.2,2508.0 1286.8,2506.2 1289.5,2504.5 1292.3,2502.8 1295.0,2501.2 1297.7,2499.7"/><path stroke="#02a8f4" d="M1297.7,2499.7 1300.4,2498.4 1302.8,2497.2 1305.1,2496.2 1307.3,2495.3 1309.4,2494.6 1311.4,2493.9 1313.4,2493.4 1315.4,2493.1 1317.4,2493.0 1319.5,2493.0 1321.6,2493.3 1323.8,2493.8 1325.9,2494.4 1328.1,2495.3 1330.2,2496.2 1332.3,2497.2 1334.3,2498.3"/><path stroke="#02a7f4" d="M1334.3,2498.3 1336.2,2499.3 1338.0,2500.3 1339.8,2501.4 1341.5,2502.6 1343.1,2503.8 1344.7,2505.1"/><path stroke="#01a6f3" d="M1344.7,2505.1 1346.3,2506.4 1347.8,2507.8 1349.3,2509.3"/><path stroke="#01a5f3" d="M1349.3,2509.3 1350.7,2510.9 1352.2,2512.6 1353.5,2514.4"/><path stroke="#01a4f3" d="M1353.5,2514.4 1354.9,2516.3 1356.1,2518.2 1357.4,2520.1"/><path stroke="#00a3f2" d="M1357.4,2520.1 1358.6,2522.0 1359.7,2523.9 1360.8,2525.7"/><path stroke="#00a3f2" transform="translate(-0.58,0)" d="M1360.8,2525.7 1361.8,2527.6"/><path stroke="#00a3f2" transform="translate(-0.2,0)" d="M1360.8,2525.7 1361.8,2527.6"/><path stroke="#00a3f2" transform="translate(0.2,0)" d="M1360.8,2525.7 1361.8,2527.6"/><path stroke="#00a3f2" transform="translate(0.58,0)" d="M1360.8,2525.7 1361.8,2527.6"/><path stroke="#00a2f2" transform="translate(-0.58,0)" d="M1361.8,2527.6 1362.7,2529.4 1363.6,2531.2 1364.5,2533.1 1365.3,2534.9 1366.2,2536.8 1367.1,2538.6 1368.0,2540.4 1368.9,2542.2 1369.8,2544.0 1370.8,2545.8 1371.7,2547.6 1372.6,2549.5 1373.5,2551.3 1374.4,2553.2 1375.3,2555.1 1376.3,2557.0 1377.2,2559.0 1378.1,2561.0 1379.1,2563.0 1380.0,2564.9 1380.9,2566.9"/><path stroke="#00a2f2" transform="translate(-0.2,0)" d="M1361.8,2527.6 1362.7,2529.4 1363.6,2531.2 1364.5,2533.1 1365.3,2534.9 1366.2,2536.8 1367.1,2538.6 1368.0,2540.4 1368.9,2542.2 1369.8,2544.0 1370.8,2545.8 1371.7,2547.6 1372.6,2549.5 1373.5,2551.3 1374.4,2553.2 1375.3,2555.1 1376.3,2557.0 1377.2,2559.0 1378.1,2561.0 1379.1,2563.0 1380.0,2564.9 1380.9,2566.9"/><path stroke="#00a2f2" transform="translate(0.2,0)" d="M1361.8,2527.6 1362.7,2529.4 1363.6,2531.2 1364.5,2533.1 1365.3,2534.9 1366.2,2536.8 1367.1,2538.6 1368.0,2540.4 1368.9,2542.2 1369.8,2544.0 1370.8,2545.8 1371.7,2547.6 1372.6,2549.5 1373.5,2551.3 1374.4,2553.2 1375.3,2555.1 1376.3,2557.0 1377.2,2559.0 1378.1,2561.0 1379.1,2563.0 1380.0,2564.9 1380.9,2566.9"/><path stroke="#00a2f2" transform="translate(0.58,0)" d="M1361.8,2527.6 1362.7,2529.4 1363.6,2531.2 1364.5,2533.1 1365.3,2534.9 1366.2,2536.8 1367.1,2538.6 1368.0,2540.4 1368.9,2542.2 1369.8,2544.0 1370.8,2545.8 1371.7,2547.6 1372.6,2549.5 1373.5,2551.3 1374.4,2553.2 1375.3,2555.1 1376.3,2557.0 1377.2,2559.0 1378.1,2561.0 1379.1,2563.0 1380.0,2564.9 1380.9,2566.9"/><path stroke="#00a2f2" transform="translate(-1.17,0)" d="M1380.9,2566.9 1381.7,2568.9 1382.5,2570.9 1383.2,2572.9 1383.9,2574.9 1384.6,2576.9 1385.2,2578.9 1385.9,2580.8 1386.7,2582.7"/><path stroke="#00a2f2" transform="translate(-0.4,0)" d="M1380.9,2566.9 1381.7,2568.9 1382.5,2570.9 1383.2,2572.9 1383.9,2574.9 1384.6,2576.9 1385.2,2578.9 1385.9,2580.8 1386.7,2582.7"/><path stroke="#00a2f2" transform="translate(0.4,0)" d="M1380.9,2566.9 1381.7,2568.9 1382.5,2570.9 1383.2,2572.9 1383.9,2574.9 1384.6,2576.9 1385.2,2578.9 1385.9,2580.8 1386.7,2582.7"/><path stroke="#00a2f2" transform="translate(1.17,0)" d="M1380.9,2566.9 1381.7,2568.9 1382.5,2570.9 1383.2,2572.9 1383.9,2574.9 1384.6,2576.9 1385.2,2578.9 1385.9,2580.8 1386.7,2582.7"/><path stroke="#00a2f2" transform="translate(-0.58,0)" d="M1386.7,2582.7 1387.5,2584.6 1388.4,2586.4"/><path stroke="#00a2f2" transform="translate(-0.2,0)" d="M1386.7,2582.7 1387.5,2584.6 1388.4,2586.4"/><path stroke="#00a2f2" transform="translate(0.2,0)" d="M1386.7,2582.7 1387.5,2584.6 1388.4,2586.4"/><path stroke="#00a2f2" transform="translate(0.58,0)" d="M1386.7,2582.7 1387.5,2584.6 1388.4,2586.4"/><path stroke="#00a3f2" transform="translate(-0.58,0)" d="M1388.4,2586.4 1389.3,2588.1"/><path stroke="#00a3f2" transform="translate(-0.2,0)" d="M1388.4,2586.4 1389.3,2588.1"/><path stroke="#00a3f2" transform="translate(0.2,0)" d="M1388.4,2586.4 1389.3,2588.1"/><path stroke="#00a3f2" transform="translate(0.58,0)" d="M1388.4,2586.4 1389.3,2588.1"/><path stroke="#00a3f2" d="M1389.3,2588.1 1390.3,2589.8 1391.2,2591.4 1392.2,2593.0 1393.3,2594.7 1394.3,2596.4 1395.3,2598.2 1396.3,2600.1"/><path stroke="#00a3f2" transform="translate(-0.58,0)" d="M1396.3,2600.1 1397.4,2602.0"/><path stroke="#00a3f2" transform="translate(-0.2,0)" d="M1396.3,2600.1 1397.4,2602.0"/><path stroke="#00a3f2" transform="translate(0.2,0)" d="M1396.3,2600.1 1397.4,2602.0"/><path stroke="#00a3f2" transform="translate(0.58,0)" d="M1396.3,2600.1 1397.4,2602.0"/><path stroke="#00a2f2" transform="translate(-0.58,0)" d="M1397.4,2602.0 1398.4,2604.0 1399.5,2606.0 1400.5,2608.0 1401.6,2610.0"/><path stroke="#00a2f2" transform="translate(-0.2,0)" d="M1397.4,2602.0 1398.4,2604.0 1399.5,2606.0 1400.5,2608.0 1401.6,2610.0"/><path stroke="#00a2f2" transform="translate(0.2,0)" d="M1397.4,2602.0 1398.4,2604.0 1399.5,2606.0 1400.5,2608.0 1401.6,2610.0"/><path stroke="#00a2f2" transform="translate(0.58,0)" d="M1397.4,2602.0 1398.4,2604.0 1399.5,2606.0 1400.5,2608.0 1401.6,2610.0"/><path stroke="#00a3f2" transform="translate(-0.58,0)" d="M1401.6,2610.0 1402.7,2612.0 1403.7,2613.9 1404.7,2615.8"/><path stroke="#00a3f2" transform="translate(-0.2,0)" d="M1401.6,2610.0 1402.7,2612.0 1403.7,2613.9 1404.7,2615.8"/><path stroke="#00a3f2" transform="translate(0.2,0)" d="M1401.6,2610.0 1402.7,2612.0 1403.7,2613.9 1404.7,2615.8"/><path stroke="#00a3f2" transform="translate(0.58,0)" d="M1401.6,2610.0 1402.7,2612.0 1403.7,2613.9 1404.7,2615.8"/><path stroke="#00a3f2" d="M1404.7,2615.8 1405.7,2617.6 1406.7,2619.5 1407.7,2621.3 1408.7,2623.1 1409.8,2624.9 1410.9,2626.7"/><path stroke="#01a4f3" d="M1410.9,2626.7 1412.0,2628.5 1413.2,2630.3 1414.5,2632.1 1415.8,2634.0 1417.1,2635.8 1418.5,2637.6 1419.8,2639.4 1421.2,2641.3 1422.5,2643.1 1423.8,2644.9 1425.1,2646.8 1426.4,2648.7 1427.8,2650.5 1429.1,2652.4 1430.4,2654.2 1431.7,2656.0 1433.0,2657.8 1434.3,2659.6 1435.6,2661.3 1436.8,2663.0 1438.1,2664.7"/><path stroke="#01a5f3" d="M1438.1,2664.7 1439.4,2666.3 1440.7,2668.0 1442.0,2669.7 1443.4,2671.4 1444.8,2673.1 1446.3,2674.8 1447.8,2676.5 1449.3,2678.3 1450.9,2680.0"/><path stroke="#01a6f3" d="M1450.9,2680.0 1452.5,2681.7 1454.2,2683.3 1455.9,2685.0 1457.8,2686.6 1459.7,2688.3"/><path stroke="#02a7f4" d="M1459.7,2688.3 1461.8,2689.9 1463.9,2691.6 1466.0,2693.2 1468.0,2694.7 1470.0,2696.2 1471.8,2697.6"/><path stroke="#01a6f3" d="M1471.8,2697.6 1473.5,2698.9 1475.0,2700.2 1476.5,2701.5 1477.9,2702.6 1479.3,2703.8 1480.7,2704.9"/><path stroke="#02a7f4" d="M1480.7,2704.9 1482.1,2706.0 1483.5,2707.0 1484.9,2708.0 1486.3,2708.9 1487.7,2709.8 1489.0,2710.6 1490.4,2711.5 1491.9,2712.3 1493.5,2713.2"/><path stroke="#02a8f4" d="M1493.5,2713.2 1495.3,2714.1 1497.2,2715.1 1499.3,2716.1 1501.5,2717.2 1503.7,2718.3 1506.0,2719.4 1508.4,2720.5 1510.7,2721.5 1512.9,2722.4 1515.1,2723.3 1517.2,2724.1 1519.3,2724.8 1521.4,2725.6 1523.5,2726.3 1525.8,2726.9 1528.1,2727.6 1530.6,2728.2 1533.3,2728.8 1536.2,2729.4 1539.2,2729.9 1542.3,2730.4 1545.5,2730.9 1548.5,2731.4 1551.4,2731.9 1554.1,2732.4 1556.6,2732.9 1558.8,2733.5 1560.9,2734.1 1562.9,2734.6 1565.0,2735.1 1567.1,2735.6 1569.3,2736.1 1571.8,2736.5 1574.5,2736.8 1577.3,2737.1 1580.2,2737.3 1583.2,2737.4 1586.2,2737.6 1589.3,2737.7 1592.3,2737.9 1595.3,2738.2 1598.3,2738.5 1601.2,2738.9 1604.2,2739.3 1607.2,2739.7 1610.2,2740.1 1613.1,2740.5 1616.0,2740.9 1618.8,2741.2 1621.6,2741.5 1624.2,2741.7 1626.9,2742.0 1629.5,2742.2 1632.1,2742.4 1634.7,2742.6 1637.3,2742.8 1640.0,2743.0 1642.4,2743.2 1644.2,2743.5 1645.9,2743.7 1647.7,2743.9 1649.9,2744.1 1652.9,2744.3 1656.9,2744.5 1662.2,2744.6 1669.6,2744.7 1679.1,2744.7 1689.9,2744.7 1701.3,2744.7 1712.6,2744.7 1722.9,2744.6 1731.5,2744.6 1737.7,2744.6"/></g>
<text transform="translate(609.78,2811.20) scale(0.9158,1)" font-size="54.07" font-weight="normal" fill="#262626" filter="url(#sbt)">VLDL</text>
<text transform="translate(881.94,2811.20) scale(0.9144,1)" font-size="54.07" font-weight="normal" fill="#262626" filter="url(#sbt)">LDL</text>
<text transform="translate(1152.49,2811.20) scale(0.9035,1)" font-size="54.07" font-weight="normal" fill="#262626" filter="url(#sbt)">HDL</text>
<text transform="translate(1427.35,2811.20) scale(0.9585,1)" font-size="54.07" font-weight="normal" fill="#262626" filter="url(#sbt)">LPDP</text>
<text transform="translate(381.19,2776.34) scale(2.7477,1)" font-size="16.24" font-weight="bold" fill="#222" filter="url(#blur1)">10</text>
<text transform="translate(1033.36,2776.34) scale(2.9102,1)" font-size="16.24" font-weight="bold" fill="#222" filter="url(#blur1)">20</text>
<text transform="translate(1686.93,2776.32) scale(2.8836,1)" font-size="16.21" font-weight="bold" fill="#222" filter="url(#blur1)">30</text>
<path d="M520,126V148H519V221H518V293H517V366H516V439H515V511H514V584H513V657H512V730H511V802H510V875H509V948H508V1020H507V1093H506V1166H505V1239H504V1311H503V1384H502V1457H501V1530H500V1602H499V1675H498V1748H497V1820H496V1893H495V1966H494V2039H493V2111H492V2184H491V2257H490V2329H489V2402H488V2475H487V2548H486V2620H485V2693H484V2744H474V2722H475V2649H476V2577H477V2504H478V2431H479V2359H480V2286H481V2213H482V2140H483V2068H484V1995H485V1922H486V1850H487V1777H488V1704H489V1631H490V1559H491V1486H492V1413H493V1340H494V1268H495V1195H496V1122H497V1050H498V977H499V904H500V831H501V759H502V686H503V613H504V541H505V468H506V395H507V322H508V250H509V177H510V126ZM834,126V201H833V451H832V702H831V952H830V1203H829V1453H828V1703H827V1954H826V2204H825V2455H824V2705H823V2755H814V2555H815V2304H816V2054H817V1804H818V1553H819V1303H820V1052H821V802H822V552H823V301H824V126ZM1085,122V201H1084V464H1083V727H1082V990H1081V1253H1080V1516H1079V1780H1078V2043H1077V2306H1076V2569H1075V2753H1065V2674H1066V2411H1067V2148H1068V1885H1069V1622H1070V1359H1071V1095H1072V832H1073V569H1074V306H1075V122ZM1309,126V336H1308V600H1307V863H1306V1126H1305V1389H1304V1652H1303V1915H1302V2178H1301V2441H1300V2704H1299V2757H1290V2547H1291V2283H1292V2020H1293V1757H1294V1494H1295V1231H1296V968H1297V705H1298V442H1299V179H1300V126Z" fill="#1a71ca" shape-rendering="crispEdges"/>
</svg></body></html>
